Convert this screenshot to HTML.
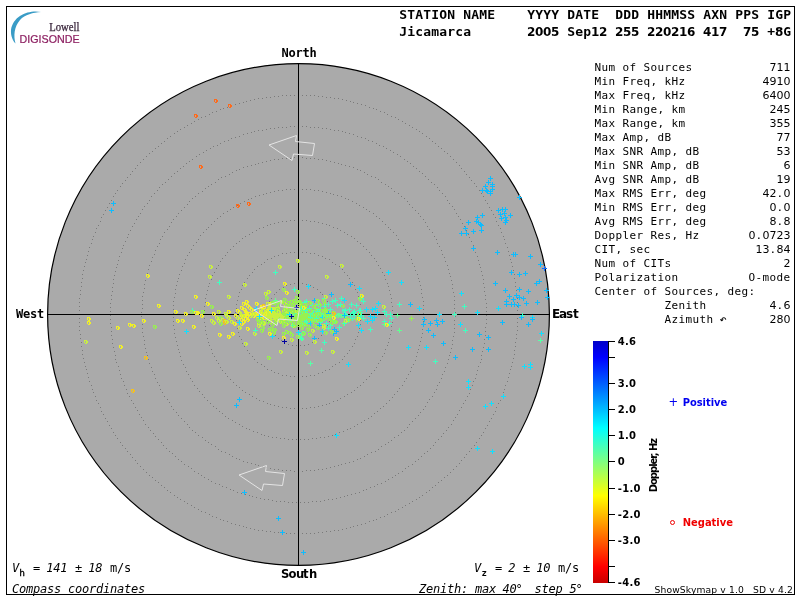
<!DOCTYPE html>
<html lang="en"><head><meta charset="utf-8"><title>Skymap - Jicamarca</title>
<style>html,body{margin:0;padding:0;background:#fff;overflow:hidden}svg{display:block}text{white-space:pre}</style>
</head><body>
<svg width="800" height="600" viewBox="0 0 800 600">
<rect x="0" y="0" width="800" height="600" fill="#fff"/>
<rect x="6.5" y="6.5" width="788" height="588" fill="none" stroke="#000" stroke-width="1"/>
<circle cx="298.5" cy="314.5" r="250.9" fill="#aaaaaa" stroke="#000" stroke-width="1.2"/>
<path d="M298 283.5h1M302 283.5h1M306 284.5h1M310 285.5h1M313 287.5h1M317 289.5h1M320 292.5h1M322 294.5h1M325 298.5h1M327 301.5h1M328 305.5h1M329 309.5h1M329 313.5h1M329 317.5h1M329 321.5h1M327 325.5h1M326 328.5h1M324 332.5h1M321 335.5h1M318 338.5h1M315 340.5h1M312 342.5h1M308 344.5h1M304 345.5h1M300 345.5h1M296 345.5h1M292 345.5h1M288 344.5h1M284 342.5h1M281 340.5h1M278 338.5h1M275 335.5h1M272 332.5h1M270 328.5h1M269 325.5h1M267 321.5h1M267 317.5h1M267 313.5h1M267 309.5h1M268 305.5h1M269 301.5h1M271 298.5h1M274 294.5h1M276 292.5h1M279 289.5h1M283 287.5h1M286 285.5h1M290 284.5h1M294 283.5h1M298 251.5h1M302 252.5h1M306 252.5h1M310 253.5h1M314 253.5h1M318 255.5h1M322 256.5h1M325 258.5h1M329 259.5h1M332 262.5h1M335 264.5h1M339 266.5h1M342 269.5h1M344 272.5h1M347 275.5h1M349 278.5h1M352 282.5h1M354 285.5h1M355 289.5h1M357 292.5h1M358 296.5h1M359 300.5h1M360 304.5h1M360 308.5h1M361 312.5h1M361 316.5h1M360 320.5h1M360 324.5h1M359 328.5h1M358 332.5h1M357 336.5h1M355 339.5h1M354 343.5h1M352 346.5h1M349 350.5h1M347 353.5h1M344 356.5h1M342 359.5h1M339 362.5h1M335 364.5h1M332 366.5h1M329 369.5h1M325 370.5h1M322 372.5h1M318 373.5h1M314 375.5h1M310 375.5h1M306 376.5h1M302 376.5h1M298 377.5h1M294 376.5h1M290 376.5h1M286 375.5h1M282 375.5h1M278 373.5h1M274 372.5h1M271 370.5h1M267 369.5h1M264 366.5h1M261 364.5h1M257 362.5h1M254 359.5h1M252 356.5h1M249 353.5h1M247 350.5h1M244 346.5h1M242 343.5h1M241 339.5h1M239 336.5h1M238 332.5h1M237 328.5h1M236 324.5h1M236 320.5h1M235 316.5h1M235 312.5h1M236 308.5h1M236 304.5h1M237 300.5h1M238 296.5h1M239 292.5h1M241 289.5h1M242 285.5h1M244 282.5h1M247 278.5h1M249 275.5h1M252 272.5h1M254 269.5h1M257 266.5h1M261 264.5h1M264 262.5h1M267 259.5h1M271 258.5h1M274 256.5h1M278 255.5h1M282 253.5h1M286 253.5h1M290 252.5h1M294 252.5h1M298 220.5h1M302 220.5h1M306 220.5h1M310 221.5h1M314 221.5h1M318 222.5h1M322 223.5h1M326 224.5h1M329 225.5h1M333 227.5h1M337 228.5h1M340 230.5h1M344 232.5h1M347 234.5h1M351 236.5h1M354 238.5h1M357 241.5h1M360 243.5h1M363 246.5h1M366 249.5h1M369 252.5h1M371 255.5h1M374 258.5h1M376 261.5h1M378 265.5h1M380 268.5h1M382 272.5h1M384 275.5h1M385 279.5h1M387 283.5h1M388 286.5h1M389 290.5h1M390 294.5h1M391 298.5h1M391 302.5h1M392 306.5h1M392 310.5h1M392 314.5h1M392 318.5h1M392 322.5h1M391 326.5h1M391 330.5h1M390 334.5h1M389 338.5h1M388 342.5h1M387 345.5h1M385 349.5h1M384 353.5h1M382 356.5h1M380 360.5h1M378 363.5h1M376 367.5h1M374 370.5h1M371 373.5h1M369 376.5h1M366 379.5h1M363 382.5h1M360 385.5h1M357 387.5h1M354 390.5h1M351 392.5h1M347 394.5h1M344 396.5h1M340 398.5h1M337 400.5h1M333 401.5h1M329 403.5h1M326 404.5h1M322 405.5h1M318 406.5h1M314 407.5h1M310 407.5h1M306 408.5h1M302 408.5h1M298 408.5h1M294 408.5h1M290 408.5h1M286 407.5h1M282 407.5h1M278 406.5h1M274 405.5h1M270 404.5h1M267 403.5h1M263 401.5h1M259 400.5h1M256 398.5h1M252 396.5h1M249 394.5h1M245 392.5h1M242 390.5h1M239 387.5h1M236 385.5h1M233 382.5h1M230 379.5h1M227 376.5h1M225 373.5h1M222 370.5h1M220 367.5h1M218 363.5h1M216 360.5h1M214 356.5h1M212 353.5h1M211 349.5h1M209 345.5h1M208 342.5h1M207 338.5h1M206 334.5h1M205 330.5h1M205 326.5h1M204 322.5h1M204 318.5h1M204 314.5h1M204 310.5h1M204 306.5h1M205 302.5h1M205 298.5h1M206 294.5h1M207 290.5h1M208 286.5h1M209 283.5h1M211 279.5h1M212 275.5h1M214 272.5h1M216 268.5h1M218 265.5h1M220 261.5h1M222 258.5h1M225 255.5h1M227 252.5h1M230 249.5h1M233 246.5h1M236 243.5h1M239 241.5h1M242 238.5h1M245 236.5h1M249 234.5h1M252 232.5h1M256 230.5h1M259 228.5h1M263 227.5h1M267 225.5h1M270 224.5h1M274 223.5h1M278 222.5h1M282 221.5h1M286 221.5h1M290 220.5h1M294 220.5h1M298 189.5h1M302 189.5h1M306 189.5h1M310 189.5h1M314 190.5h1M318 190.5h1M322 191.5h1M326 192.5h1M330 193.5h1M333 194.5h1M337 195.5h1M341 196.5h1M345 198.5h1M348 199.5h1M352 201.5h1M356 203.5h1M359 205.5h1M363 207.5h1M366 209.5h1M369 211.5h1M373 213.5h1M376 216.5h1M379 218.5h1M382 221.5h1M385 224.5h1M388 227.5h1M390 229.5h1M393 232.5h1M396 235.5h1M398 239.5h1M400 242.5h1M403 245.5h1M405 249.5h1M407 252.5h1M409 255.5h1M411 259.5h1M412 263.5h1M414 266.5h1M415 270.5h1M417 274.5h1M418 278.5h1M419 281.5h1M420 285.5h1M421 289.5h1M421 293.5h1M422 297.5h1M423 301.5h1M423 305.5h1M423 309.5h1M423 313.5h1M423 317.5h1M423 321.5h1M423 325.5h1M422 329.5h1M422 333.5h1M421 337.5h1M420 341.5h1M419 345.5h1M418 349.5h1M417 352.5h1M416 356.5h1M415 360.5h1M413 364.5h1M411 367.5h1M410 371.5h1M408 374.5h1M406 378.5h1M404 381.5h1M402 385.5h1M399 388.5h1M397 391.5h1M394 394.5h1M392 397.5h1M389 400.5h1M386 403.5h1M383 406.5h1M380 408.5h1M377 411.5h1M374 413.5h1M371 416.5h1M368 418.5h1M364 420.5h1M361 422.5h1M357 424.5h1M354 426.5h1M350 428.5h1M347 429.5h1M343 431.5h1M339 432.5h1M335 434.5h1M332 435.5h1M328 436.5h1M324 437.5h1M320 437.5h1M316 438.5h1M312 438.5h1M308 439.5h1M304 439.5h1M300 439.5h1M296 439.5h1M292 439.5h1M288 439.5h1M284 438.5h1M280 438.5h1M276 437.5h1M272 437.5h1M268 436.5h1M264 435.5h1M261 434.5h1M257 432.5h1M253 431.5h1M249 429.5h1M246 428.5h1M242 426.5h1M239 424.5h1M235 422.5h1M232 420.5h1M228 418.5h1M225 416.5h1M222 413.5h1M219 411.5h1M216 408.5h1M213 406.5h1M210 403.5h1M207 400.5h1M204 397.5h1M202 394.5h1M199 391.5h1M197 388.5h1M194 385.5h1M192 381.5h1M190 378.5h1M188 374.5h1M186 371.5h1M185 367.5h1M183 364.5h1M181 360.5h1M180 356.5h1M179 352.5h1M178 349.5h1M177 345.5h1M176 341.5h1M175 337.5h1M174 333.5h1M174 329.5h1M173 325.5h1M173 321.5h1M173 317.5h1M173 313.5h1M173 309.5h1M173 305.5h1M173 301.5h1M174 297.5h1M175 293.5h1M175 289.5h1M176 285.5h1M177 281.5h1M178 278.5h1M179 274.5h1M181 270.5h1M182 266.5h1M184 263.5h1M185 259.5h1M187 255.5h1M189 252.5h1M191 249.5h1M193 245.5h1M196 242.5h1M198 239.5h1M200 235.5h1M203 232.5h1M206 229.5h1M208 227.5h1M211 224.5h1M214 221.5h1M217 218.5h1M220 216.5h1M223 213.5h1M227 211.5h1M230 209.5h1M233 207.5h1M237 205.5h1M240 203.5h1M244 201.5h1M248 199.5h1M251 198.5h1M255 196.5h1M259 195.5h1M263 194.5h1M266 193.5h1M270 192.5h1M274 191.5h1M278 190.5h1M282 190.5h1M286 189.5h1M290 189.5h1M294 189.5h1M298 157.5h1M302 157.5h1M306 158.5h1M310 158.5h1M314 158.5h1M318 159.5h1M322 159.5h1M326 160.5h1M330 161.5h1M334 162.5h1M338 163.5h1M341 164.5h1M345 165.5h1M349 166.5h1M353 167.5h1M357 169.5h1M360 170.5h1M364 172.5h1M367 174.5h1M371 176.5h1M375 177.5h1M378 179.5h1M381 182.5h1M385 184.5h1M388 186.5h1M391 188.5h1M394 191.5h1M398 193.5h1M401 196.5h1M404 198.5h1M407 201.5h1M409 204.5h1M412 207.5h1M415 210.5h1M418 213.5h1M420 216.5h1M423 219.5h1M425 222.5h1M427 226.5h1M429 229.5h1M432 232.5h1M434 236.5h1M436 239.5h1M437 243.5h1M439 246.5h1M441 250.5h1M442 254.5h1M444 257.5h1M445 261.5h1M447 265.5h1M448 269.5h1M449 273.5h1M450 276.5h1M451 280.5h1M452 284.5h1M452 288.5h1M453 292.5h1M454 296.5h1M454 300.5h1M454 304.5h1M454 308.5h1M455 312.5h1M455 316.5h1M454 320.5h1M454 324.5h1M454 328.5h1M454 332.5h1M453 336.5h1M452 340.5h1M452 344.5h1M451 348.5h1M450 352.5h1M449 355.5h1M448 359.5h1M447 363.5h1M445 367.5h1M444 371.5h1M442 374.5h1M441 378.5h1M439 382.5h1M437 385.5h1M436 389.5h1M434 392.5h1M432 396.5h1M429 399.5h1M427 402.5h1M425 406.5h1M423 409.5h1M420 412.5h1M418 415.5h1M415 418.5h1M412 421.5h1M409 424.5h1M407 427.5h1M404 430.5h1M401 432.5h1M398 435.5h1M394 437.5h1M391 440.5h1M388 442.5h1M385 444.5h1M381 446.5h1M378 449.5h1M375 451.5h1M371 452.5h1M367 454.5h1M364 456.5h1M360 458.5h1M357 459.5h1M353 461.5h1M349 462.5h1M345 463.5h1M341 464.5h1M338 465.5h1M334 466.5h1M330 467.5h1M326 468.5h1M322 469.5h1M318 469.5h1M314 470.5h1M310 470.5h1M306 470.5h1M302 471.5h1M298 471.5h1M294 471.5h1M290 470.5h1M286 470.5h1M282 470.5h1M278 469.5h1M274 469.5h1M270 468.5h1M266 467.5h1M262 466.5h1M258 465.5h1M255 464.5h1M251 463.5h1M247 462.5h1M243 461.5h1M239 459.5h1M236 458.5h1M232 456.5h1M229 454.5h1M225 452.5h1M221 451.5h1M218 449.5h1M215 446.5h1M211 444.5h1M208 442.5h1M205 440.5h1M202 437.5h1M198 435.5h1M195 432.5h1M192 430.5h1M189 427.5h1M187 424.5h1M184 421.5h1M181 418.5h1M178 415.5h1M176 412.5h1M173 409.5h1M171 406.5h1M169 402.5h1M167 399.5h1M164 396.5h1M162 392.5h1M160 389.5h1M159 385.5h1M157 382.5h1M155 378.5h1M154 374.5h1M152 371.5h1M151 367.5h1M149 363.5h1M148 359.5h1M147 355.5h1M146 352.5h1M145 348.5h1M144 344.5h1M144 340.5h1M143 336.5h1M142 332.5h1M142 328.5h1M142 324.5h1M142 320.5h1M141 316.5h1M141 312.5h1M142 308.5h1M142 304.5h1M142 300.5h1M142 296.5h1M143 292.5h1M144 288.5h1M144 284.5h1M145 280.5h1M146 276.5h1M147 273.5h1M148 269.5h1M149 265.5h1M151 261.5h1M152 257.5h1M154 254.5h1M155 250.5h1M157 246.5h1M159 243.5h1M160 239.5h1M162 236.5h1M164 232.5h1M167 229.5h1M169 226.5h1M171 222.5h1M173 219.5h1M176 216.5h1M178 213.5h1M181 210.5h1M184 207.5h1M187 204.5h1M189 201.5h1M192 198.5h1M195 196.5h1M198 193.5h1M202 191.5h1M205 188.5h1M208 186.5h1M211 184.5h1M215 182.5h1M218 179.5h1M221 177.5h1M225 176.5h1M229 174.5h1M232 172.5h1M236 170.5h1M239 169.5h1M243 167.5h1M247 166.5h1M251 165.5h1M255 164.5h1M258 163.5h1M262 162.5h1M266 161.5h1M270 160.5h1M274 159.5h1M278 159.5h1M282 158.5h1M286 158.5h1M290 158.5h1M294 157.5h1M298 126.5h1M302 126.5h1M306 126.5h1M310 127.5h1M314 127.5h1M318 127.5h1M322 128.5h1M326 128.5h1M330 129.5h1M334 130.5h1M338 130.5h1M342 131.5h1M345 132.5h1M349 133.5h1M353 134.5h1M357 136.5h1M361 137.5h1M365 138.5h1M368 140.5h1M372 141.5h1M376 143.5h1M379 145.5h1M383 146.5h1M386 148.5h1M390 150.5h1M393 152.5h1M397 154.5h1M400 156.5h1M404 159.5h1M407 161.5h1M410 163.5h1M413 166.5h1M416 168.5h1M419 171.5h1M422 173.5h1M425 176.5h1M428 179.5h1M431 182.5h1M434 184.5h1M437 187.5h1M439 190.5h1M442 193.5h1M445 196.5h1M447 200.5h1M449 203.5h1M452 206.5h1M454 209.5h1M456 213.5h1M458 216.5h1M460 219.5h1M462 223.5h1M464 226.5h1M466 230.5h1M468 234.5h1M469 237.5h1M471 241.5h1M473 245.5h1M474 248.5h1M475 252.5h1M477 256.5h1M478 260.5h1M479 264.5h1M480 267.5h1M481 271.5h1M482 275.5h1M483 279.5h1M483 283.5h1M484 287.5h1M484 291.5h1M485 295.5h1M485 299.5h1M486 303.5h1M486 307.5h1M486 311.5h1M486 315.5h1M486 319.5h1M486 323.5h1M485 327.5h1M485 331.5h1M485 335.5h1M484 339.5h1M484 343.5h1M483 347.5h1M482 351.5h1M481 355.5h1M481 359.5h1M480 362.5h1M478 366.5h1M477 370.5h1M476 374.5h1M475 378.5h1M473 381.5h1M472 385.5h1M470 389.5h1M469 393.5h1M467 396.5h1M465 400.5h1M463 403.5h1M461 407.5h1M459 410.5h1M457 414.5h1M455 417.5h1M453 420.5h1M451 424.5h1M448 427.5h1M446 430.5h1M443 433.5h1M441 436.5h1M438 439.5h1M435 442.5h1M433 445.5h1M430 448.5h1M427 451.5h1M424 453.5h1M421 456.5h1M418 459.5h1M415 461.5h1M412 464.5h1M408 466.5h1M405 468.5h1M402 471.5h1M398 473.5h1M395 475.5h1M392 477.5h1M388 479.5h1M385 481.5h1M381 483.5h1M377 484.5h1M374 486.5h1M370 487.5h1M366 489.5h1M363 490.5h1M359 492.5h1M355 493.5h1M351 494.5h1M347 495.5h1M344 496.5h1M340 497.5h1M336 498.5h1M332 499.5h1M328 499.5h1M324 500.5h1M320 501.5h1M316 501.5h1M312 501.5h1M308 502.5h1M304 502.5h1M300 502.5h1M296 502.5h1M292 502.5h1M288 502.5h1M284 501.5h1M280 501.5h1M276 501.5h1M272 500.5h1M268 499.5h1M264 499.5h1M260 498.5h1M256 497.5h1M252 496.5h1M249 495.5h1M245 494.5h1M241 493.5h1M237 492.5h1M233 490.5h1M230 489.5h1M226 487.5h1M222 486.5h1M219 484.5h1M215 483.5h1M211 481.5h1M208 479.5h1M204 477.5h1M201 475.5h1M198 473.5h1M194 471.5h1M191 468.5h1M188 466.5h1M184 464.5h1M181 461.5h1M178 459.5h1M175 456.5h1M172 453.5h1M169 451.5h1M166 448.5h1M163 445.5h1M161 442.5h1M158 439.5h1M155 436.5h1M153 433.5h1M150 430.5h1M148 427.5h1M145 424.5h1M143 420.5h1M141 417.5h1M139 414.5h1M137 410.5h1M135 407.5h1M133 403.5h1M131 400.5h1M129 396.5h1M127 393.5h1M126 389.5h1M124 385.5h1M123 381.5h1M121 378.5h1M120 374.5h1M119 370.5h1M118 366.5h1M116 362.5h1M115 359.5h1M115 355.5h1M114 351.5h1M113 347.5h1M112 343.5h1M112 339.5h1M111 335.5h1M111 331.5h1M111 327.5h1M110 323.5h1M110 319.5h1M110 315.5h1M110 311.5h1M110 307.5h1M110 303.5h1M111 299.5h1M111 295.5h1M112 291.5h1M112 287.5h1M113 283.5h1M113 279.5h1M114 275.5h1M115 271.5h1M116 267.5h1M117 264.5h1M118 260.5h1M119 256.5h1M121 252.5h1M122 248.5h1M123 245.5h1M125 241.5h1M127 237.5h1M128 234.5h1M130 230.5h1M132 226.5h1M134 223.5h1M136 219.5h1M138 216.5h1M140 213.5h1M142 209.5h1M144 206.5h1M147 203.5h1M149 200.5h1M151 196.5h1M154 193.5h1M157 190.5h1M159 187.5h1M162 184.5h1M165 182.5h1M168 179.5h1M171 176.5h1M174 173.5h1M177 171.5h1M180 168.5h1M183 166.5h1M186 163.5h1M189 161.5h1M192 159.5h1M196 156.5h1M199 154.5h1M203 152.5h1M206 150.5h1M210 148.5h1M213 146.5h1M217 145.5h1M220 143.5h1M224 141.5h1M228 140.5h1M231 138.5h1M235 137.5h1M239 136.5h1M243 134.5h1M247 133.5h1M251 132.5h1M254 131.5h1M258 130.5h1M262 130.5h1M266 129.5h1M270 128.5h1M274 128.5h1M278 127.5h1M282 127.5h1M286 127.5h1M290 126.5h1M294 126.5h1M298 95.5h1M302 95.5h1M306 95.5h1M310 95.5h1M314 95.5h1M318 96.5h1M322 96.5h1M326 97.5h1M330 97.5h1M334 98.5h1M338 98.5h1M342 99.5h1M346 100.5h1M350 101.5h1M353 102.5h1M357 103.5h1M361 104.5h1M365 105.5h1M369 107.5h1M373 108.5h1M376 109.5h1M380 111.5h1M384 112.5h1M387 114.5h1M391 116.5h1M395 117.5h1M398 119.5h1M402 121.5h1M405 123.5h1M409 125.5h1M412 127.5h1M416 129.5h1M419 131.5h1M422 133.5h1M426 136.5h1M429 138.5h1M432 141.5h1M435 143.5h1M438 146.5h1M441 148.5h1M444 151.5h1M447 153.5h1M450 156.5h1M453 159.5h1M456 162.5h1M459 165.5h1M461 168.5h1M464 171.5h1M466 174.5h1M469 177.5h1M471 180.5h1M474 183.5h1M476 186.5h1M479 190.5h1M481 193.5h1M483 196.5h1M485 200.5h1M487 203.5h1M489 207.5h1M491 210.5h1M493 214.5h1M495 217.5h1M496 221.5h1M498 225.5h1M500 228.5h1M501 232.5h1M503 236.5h1M504 239.5h1M505 243.5h1M507 247.5h1M508 251.5h1M509 255.5h1M510 259.5h1M511 262.5h1M512 266.5h1M513 270.5h1M514 274.5h1M514 278.5h1M515 282.5h1M515 286.5h1M516 290.5h1M516 294.5h1M517 298.5h1M517 302.5h1M517 306.5h1M517 310.5h1M517 314.5h1M517 318.5h1M517 322.5h1M517 326.5h1M517 330.5h1M516 334.5h1M516 338.5h1M515 342.5h1M515 346.5h1M514 350.5h1M514 354.5h1M513 358.5h1M512 362.5h1M511 366.5h1M510 369.5h1M509 373.5h1M508 377.5h1M507 381.5h1M505 385.5h1M504 389.5h1M503 392.5h1M501 396.5h1M500 400.5h1M498 403.5h1M496 407.5h1M495 411.5h1M493 414.5h1M491 418.5h1M489 421.5h1M487 425.5h1M485 428.5h1M483 432.5h1M481 435.5h1M479 438.5h1M476 442.5h1M474 445.5h1M471 448.5h1M469 451.5h1M466 454.5h1M464 457.5h1M461 460.5h1M459 463.5h1M456 466.5h1M453 469.5h1M450 472.5h1M447 475.5h1M444 477.5h1M441 480.5h1M438 482.5h1M435 485.5h1M432 487.5h1M429 490.5h1M426 492.5h1M422 495.5h1M419 497.5h1M416 499.5h1M412 501.5h1M409 503.5h1M405 505.5h1M402 507.5h1M398 509.5h1M395 511.5h1M391 512.5h1M387 514.5h1M384 516.5h1M380 517.5h1M376 519.5h1M373 520.5h1M369 521.5h1M365 523.5h1M361 524.5h1M357 525.5h1M353 526.5h1M350 527.5h1M346 528.5h1M342 529.5h1M338 530.5h1M334 530.5h1M330 531.5h1M326 531.5h1M322 532.5h1M318 532.5h1M314 533.5h1M310 533.5h1M306 533.5h1M302 533.5h1M298 533.5h1M294 533.5h1M290 533.5h1M286 533.5h1M282 533.5h1M278 532.5h1M274 532.5h1M270 531.5h1M266 531.5h1M262 530.5h1M258 530.5h1M254 529.5h1M250 528.5h1M246 527.5h1M243 526.5h1M239 525.5h1M235 524.5h1M231 523.5h1M227 521.5h1M223 520.5h1M220 519.5h1M216 517.5h1M212 516.5h1M209 514.5h1M205 512.5h1M201 511.5h1M198 509.5h1M194 507.5h1M191 505.5h1M187 503.5h1M184 501.5h1M180 499.5h1M177 497.5h1M174 495.5h1M170 492.5h1M167 490.5h1M164 487.5h1M161 485.5h1M158 482.5h1M155 480.5h1M152 477.5h1M149 475.5h1M146 472.5h1M143 469.5h1M140 466.5h1M137 463.5h1M135 460.5h1M132 457.5h1M130 454.5h1M127 451.5h1M125 448.5h1M122 445.5h1M120 442.5h1M117 438.5h1M115 435.5h1M113 432.5h1M111 428.5h1M109 425.5h1M107 421.5h1M105 418.5h1M103 414.5h1M101 411.5h1M100 407.5h1M98 403.5h1M96 400.5h1M95 396.5h1M93 392.5h1M92 389.5h1M91 385.5h1M89 381.5h1M88 377.5h1M87 373.5h1M86 369.5h1M85 366.5h1M84 362.5h1M83 358.5h1M82 354.5h1M82 350.5h1M81 346.5h1M81 342.5h1M80 338.5h1M80 334.5h1M79 330.5h1M79 326.5h1M79 322.5h1M79 318.5h1M79 314.5h1M79 310.5h1M79 306.5h1M79 302.5h1M79 298.5h1M80 294.5h1M80 290.5h1M81 286.5h1M81 282.5h1M82 278.5h1M82 274.5h1M83 270.5h1M84 266.5h1M85 262.5h1M86 259.5h1M87 255.5h1M88 251.5h1M89 247.5h1M91 243.5h1M92 239.5h1M93 236.5h1M95 232.5h1M96 228.5h1M98 225.5h1M100 221.5h1M101 217.5h1M103 214.5h1M105 210.5h1M107 207.5h1M109 203.5h1M111 200.5h1M113 196.5h1M115 193.5h1M117 190.5h1M120 186.5h1M122 183.5h1M125 180.5h1M127 177.5h1M130 174.5h1M132 171.5h1M135 168.5h1M137 165.5h1M140 162.5h1M143 159.5h1M146 156.5h1M149 153.5h1M152 151.5h1M155 148.5h1M158 146.5h1M161 143.5h1M164 141.5h1M167 138.5h1M170 136.5h1M174 133.5h1M177 131.5h1M180 129.5h1M184 127.5h1M187 125.5h1M191 123.5h1M194 121.5h1M198 119.5h1M201 117.5h1M205 116.5h1M209 114.5h1M212 112.5h1M216 111.5h1M220 109.5h1M223 108.5h1M227 107.5h1M231 105.5h1M235 104.5h1M239 103.5h1M243 102.5h1M246 101.5h1M250 100.5h1M254 99.5h1M258 98.5h1M262 98.5h1M266 97.5h1M270 97.5h1M274 96.5h1M278 96.5h1M282 95.5h1M286 95.5h1M290 95.5h1M294 95.5h1" stroke="#7a7a7a" stroke-width="1" fill="none" shape-rendering="crispEdges"/>
<path d="M298.5 64V565M48 314.5H549" stroke="#000" stroke-width="1" fill="none" shape-rendering="crispEdges"/>
<style>.a{fill:#ff6a1a}.b{fill:#f0f028}.c{fill:#c8f040}.d{fill:#58ffa8}.e{fill:#40ffc0}.f{fill:#10e0ff}.g{fill:#0cbcff}.h{fill:#1070ff}.i{fill:#0000a0}.j{fill:#f4c020}.k{fill:#98f050}.l{fill:#60ff90}</style>
<g shape-rendering="crispEdges">
<path class="b" d="M240 314h3v1h-3zm0 1h1v2h-1zm2 0h2v2h-2zm-1 2h2v1h-2zM243 314h3v1h-3zm0 1h1v2h-1zm2 0h2v2h-2zm-1 2h2v1h-2zM246 314h3v1h-3zm0 1h1v2h-1zm2 0h2v2h-2zm-1 2h2v1h-2zM249 314h3v1h-3zm0 1h1v2h-1zm2 0h2v2h-2zm-1 2h2v1h-2zM252 314h3v1h-3zm0 1h1v2h-1zm2 0h2v2h-2zm-1 2h2v1h-2zM255 314h3v1h-3zm0 1h1v2h-1zm2 0h2v2h-2zm-1 2h2v1h-2zM258 314h3v1h-3zm0 1h1v2h-1zm2 0h2v2h-2zm-1 2h2v1h-2zM261 314h3v1h-3zm0 1h1v2h-1zm2 0h2v2h-2zm-1 2h2v1h-2z"/>
<path class="c" d="M264 314h3v1h-3zm0 1h1v2h-1zm2 0h2v2h-2zm-1 2h2v1h-2zM267 314h3v1h-3zm0 1h1v2h-1zm2 0h2v2h-2zm-1 2h2v1h-2zM270 314h3v1h-3zm0 1h1v2h-1zm2 0h2v2h-2zm-1 2h2v1h-2zM273 314h3v1h-3zm0 1h1v2h-1zm2 0h2v2h-2zm-1 2h2v1h-2zM276 314h3v1h-3zm0 1h1v2h-1zm2 0h2v2h-2zm-1 2h2v1h-2zM279 314h3v1h-3zm0 1h1v2h-1zm2 0h2v2h-2zm-1 2h2v1h-2zM282 314h3v1h-3zm0 1h1v2h-1zm2 0h2v2h-2zm-1 2h2v1h-2z"/>
<path class="k" d="M285 314h3v1h-3zm0 1h1v2h-1zm2 0h2v2h-2zm-1 2h2v1h-2zM288 314h3v1h-3zm0 1h1v2h-1zm2 0h2v2h-2zm-1 2h2v1h-2zM291 314h3v1h-3zm0 1h1v2h-1zm2 0h2v2h-2zm-1 2h2v1h-2zM294 314h3v1h-3zm0 1h1v2h-1zm2 0h2v2h-2zm-1 2h2v1h-2zM297 314h3v1h-3zm0 1h1v2h-1zm2 0h2v2h-2zm-1 2h2v1h-2zM300 314h3v1h-3zm0 1h1v2h-1zm2 0h2v2h-2zm-1 2h2v1h-2zM303 314h3v1h-3zm0 1h1v2h-1zm2 0h2v2h-2zm-1 2h2v1h-2zM306 314h3v1h-3zm0 1h1v2h-1zm2 0h2v2h-2zm-1 2h2v1h-2zM309 314h3v1h-3zm0 1h1v2h-1zm2 0h2v2h-2zm-1 2h2v1h-2z"/>
<path class="l" d="M312 314h3v1h-3zm0 1h1v2h-1zm2 0h2v2h-2zm-1 2h2v1h-2zM315 314h3v1h-3zm0 1h1v2h-1zm2 0h2v2h-2zm-1 2h2v1h-2zM318 314h3v1h-3zm0 1h1v2h-1zm2 0h2v2h-2zm-1 2h2v1h-2zM321 314h3v1h-3zm0 1h1v2h-1zm2 0h2v2h-2zm-1 2h2v1h-2zM324 314h3v1h-3zm0 1h1v2h-1zm2 0h2v2h-2zm-1 2h2v1h-2zM327 314h3v1h-3zm0 1h1v2h-1zm2 0h2v2h-2zm-1 2h2v1h-2zM330 314h3v1h-3zm0 1h1v2h-1zm2 0h2v2h-2zm-1 2h2v1h-2zM333 314h3v1h-3zm0 1h1v2h-1zm2 0h2v2h-2zm-1 2h2v1h-2zM336 314h3v1h-3zm0 1h1v2h-1zm2 0h2v2h-2zm-1 2h2v1h-2zM339 314h3v1h-3zm0 1h1v2h-1zm2 0h2v2h-2zm-1 2h2v1h-2zM342 314h3v1h-3zm0 1h1v2h-1zm2 0h2v2h-2zm-1 2h2v1h-2z"/>
<path class="c" d="M279 318h3v1h-3zm0 1h1v2h-1zm2 0h2v2h-2zm-1 2h2v1h-2z"/>
<path class="k" d="M297 320h3v1h-3zm0 1h1v2h-1zm2 0h2v2h-2zm-1 2h2v1h-2z"/>
<path class="b" d="M259 310h3v1h-3zm0 1h1v2h-1zm2 0h2v2h-2zm-1 2h2v1h-2z"/>
<path class="k" d="M295 313h3v1h-3zm0 1h1v2h-1zm2 0h2v2h-2zm-1 2h2v1h-2zM272 301h3v1h-3zm0 1h1v2h-1zm2 0h2v2h-2zm-1 2h2v1h-2zM297 301h3v1h-3zm0 1h1v2h-1zm2 0h2v2h-2zm-1 2h2v1h-2z"/>
<path class="c" d="M266 316h3v1h-3zm0 1h1v2h-1zm2 0h2v2h-2zm-1 2h2v1h-2zM263 316h3v1h-3zm0 1h1v2h-1zm2 0h2v2h-2zm-1 2h2v1h-2zM282 310h3v1h-3zm0 1h1v2h-1zm2 0h2v2h-2zm-1 2h2v1h-2z"/>
<path class="l" d="M299 311h3v1h-3zm0 1h1v2h-1zm2 0h2v2h-2zm-1 2h2v1h-2z"/>
<path class="c" d="M286 309h3v1h-3zm0 1h1v2h-1zm2 0h2v2h-2zm-1 2h2v1h-2zM281 320h3v1h-3zm0 1h1v2h-1zm2 0h2v2h-2zm-1 2h2v1h-2z"/>
<path class="l" d="M311 314h5v1h-5zm2-2h1v5h-1z"/>
<path class="c" d="M280 320h3v1h-3zm0 1h1v2h-1zm2 0h2v2h-2zm-1 2h2v1h-2zM276 315h3v1h-3zm0 1h1v2h-1zm2 0h2v2h-2zm-1 2h2v1h-2zM268 312h3v1h-3zm0 1h1v2h-1zm2 0h2v2h-2zm-1 2h2v1h-2z"/>
<path class="b" d="M267 310h3v1h-3zm0 1h1v2h-1zm2 0h2v2h-2zm-1 2h2v1h-2z"/>
<path class="l" d="M310 312h3v1h-3zm0 1h1v2h-1zm2 0h2v2h-2zm-1 2h2v1h-2z"/>
<path class="c" d="M280 300h3v1h-3zm0 1h1v2h-1zm2 0h2v2h-2zm-1 2h2v1h-2z"/>
<path class="l" d="M315 312h3v1h-3zm0 1h1v2h-1zm2 0h2v2h-2zm-1 2h2v1h-2z"/>
<path class="c" d="M260 311h3v1h-3zm0 1h1v2h-1zm2 0h2v2h-2zm-1 2h2v1h-2zM276 306h3v1h-3zm0 1h1v2h-1zm2 0h2v2h-2zm-1 2h2v1h-2zM298 309h5v1h-5zm2-2h1v5h-1zM273 312h3v1h-3zm0 1h1v2h-1zm2 0h2v2h-2zm-1 2h2v1h-2zM268 308h3v1h-3zm0 1h1v2h-1zm2 0h2v2h-2zm-1 2h2v1h-2z"/>
<path class="l" d="M313 314h3v1h-3zm0 1h1v2h-1zm2 0h2v2h-2zm-1 2h2v1h-2zM325 311h5v1h-5zm2-2h1v5h-1z"/>
<path class="c" d="M272 315h3v1h-3zm0 1h1v2h-1zm2 0h2v2h-2zm-1 2h2v1h-2z"/>
<path class="k" d="M276 317h3v1h-3zm0 1h1v2h-1zm2 0h2v2h-2zm-1 2h2v1h-2zM296 318h3v1h-3zm0 1h1v2h-1zm2 0h2v2h-2zm-1 2h2v1h-2z"/>
<path class="l" d="M304 303h3v1h-3zm0 1h1v2h-1zm2 0h2v2h-2zm-1 2h2v1h-2zM288 311h3v1h-3zm0 1h1v2h-1zm2 0h2v2h-2zm-1 2h2v1h-2z"/>
<path class="c" d="M284 306h3v1h-3zm0 1h1v2h-1zm2 0h2v2h-2zm-1 2h2v1h-2z"/>
<path class="b" d="M260 317h3v1h-3zm0 1h1v2h-1zm2 0h2v2h-2zm-1 2h2v1h-2z"/>
<path class="c" d="M264 310h3v1h-3zm0 1h1v2h-1zm2 0h2v2h-2zm-1 2h2v1h-2zM294 310h3v1h-3zm0 1h1v2h-1zm2 0h2v2h-2zm-1 2h2v1h-2z"/>
<path class="l" d="M299 318h5v1h-5zm2-2h1v5h-1z"/>
<path class="c" d="M274 314h3v1h-3zm0 1h1v2h-1zm2 0h2v2h-2zm-1 2h2v1h-2z"/>
<path class="l" d="M298 309h3v1h-3zm0 1h1v2h-1zm2 0h2v2h-2zm-1 2h2v1h-2zM289 312h3v1h-3zm0 1h1v2h-1zm2 0h2v2h-2zm-1 2h2v1h-2z"/>
<path class="k" d="M278 319h3v1h-3zm0 1h1v2h-1zm2 0h2v2h-2zm-1 2h2v1h-2zM274 320h3v1h-3zm0 1h1v2h-1zm2 0h2v2h-2zm-1 2h2v1h-2zM293 314h3v1h-3zm0 1h1v2h-1zm2 0h2v2h-2zm-1 2h2v1h-2z"/>
<path class="l" d="M304 321h3v1h-3zm0 1h1v2h-1zm2 0h2v2h-2zm-1 2h2v1h-2zM316 308h3v1h-3zm0 1h1v2h-1zm2 0h2v2h-2zm-1 2h2v1h-2z"/>
<path class="k" d="M281 313h3v1h-3zm0 1h1v2h-1zm2 0h2v2h-2zm-1 2h2v1h-2z"/>
<path class="c" d="M279 320h3v1h-3zm0 1h1v2h-1zm2 0h2v2h-2zm-1 2h2v1h-2z"/>
<path class="k" d="M299 315h3v1h-3zm0 1h1v2h-1zm2 0h2v2h-2zm-1 2h2v1h-2zM313 305h5v1h-5zm2-2h1v5h-1z"/>
<path class="c" d="M290 310h3v1h-3zm0 1h1v2h-1zm2 0h2v2h-2zm-1 2h2v1h-2zM270 307h3v1h-3zm0 1h1v2h-1zm2 0h2v2h-2zm-1 2h2v1h-2zM271 308h3v1h-3zm0 1h1v2h-1zm2 0h2v2h-2zm-1 2h2v1h-2z"/>
<path class="k" d="M289 308h3v1h-3zm0 1h1v2h-1zm2 0h2v2h-2zm-1 2h2v1h-2z"/>
<path class="c" d="M290 318h3v1h-3zm0 1h1v2h-1zm2 0h2v2h-2zm-1 2h2v1h-2z"/>
<path class="k" d="M302 323h5v1h-5zm2-2h1v5h-1z"/>
<path class="c" d="M268 306h3v1h-3zm0 1h1v2h-1zm2 0h2v2h-2zm-1 2h2v1h-2zM262 322h3v1h-3zm0 1h1v2h-1zm2 0h2v2h-2zm-1 2h2v1h-2zM284 308h3v1h-3zm0 1h1v2h-1zm2 0h2v2h-2zm-1 2h2v1h-2z"/>
<path class="k" d="M307 314h3v1h-3zm0 1h1v2h-1zm2 0h2v2h-2zm-1 2h2v1h-2zM289 315h3v1h-3zm0 1h1v2h-1zm2 0h2v2h-2zm-1 2h2v1h-2z"/>
<path class="c" d="M298 307h5v1h-5zm2-2h1v5h-1z"/>
<path class="k" d="M294 308h3v1h-3zm0 1h1v2h-1zm2 0h2v2h-2zm-1 2h2v1h-2z"/>
<path class="c" d="M257 321h3v1h-3zm0 1h1v2h-1zm2 0h2v2h-2zm-1 2h2v1h-2z"/>
<path class="k" d="M286 310h3v1h-3zm0 1h1v2h-1zm2 0h2v2h-2zm-1 2h2v1h-2zM274 311h3v1h-3zm0 1h1v2h-1zm2 0h2v2h-2zm-1 2h2v1h-2zM279 317h3v1h-3zm0 1h1v2h-1zm2 0h2v2h-2zm-1 2h2v1h-2z"/>
<path class="c" d="M285 322h3v1h-3zm0 1h1v2h-1zm2 0h2v2h-2zm-1 2h2v1h-2z"/>
<path class="e" d="M318 322h5v1h-5zm2-2h1v5h-1z"/>
<path class="k" d="M291 304h3v1h-3zm0 1h1v2h-1zm2 0h2v2h-2zm-1 2h2v1h-2z"/>
<path class="l" d="M317 312h5v1h-5zm2-2h1v5h-1z"/>
<path class="b" d="M268 302h3v1h-3zm0 1h1v2h-1zm2 0h2v2h-2zm-1 2h2v1h-2z"/>
<path class="k" d="M279 314h3v1h-3zm0 1h1v2h-1zm2 0h2v2h-2zm-1 2h2v1h-2zM293 301h3v1h-3zm0 1h1v2h-1zm2 0h2v2h-2zm-1 2h2v1h-2z"/>
<path class="c" d="M273 313h3v1h-3zm0 1h1v2h-1zm2 0h2v2h-2zm-1 2h2v1h-2z"/>
<path class="b" d="M259 318h3v1h-3zm0 1h1v2h-1zm2 0h2v2h-2zm-1 2h2v1h-2z"/>
<path class="k" d="M309 317h5v1h-5zm2-2h1v5h-1z"/>
<path class="c" d="M298 306h5v1h-5zm2-2h1v5h-1z"/>
<path class="l" d="M293 312h3v1h-3zm0 1h1v2h-1zm2 0h2v2h-2zm-1 2h2v1h-2z"/>
<path class="c" d="M292 312h3v1h-3zm0 1h1v2h-1zm2 0h2v2h-2zm-1 2h2v1h-2z"/>
<path class="l" d="M320 320h5v1h-5zm2-2h1v5h-1z"/>
<path class="c" d="M264 310h3v1h-3zm0 1h1v2h-1zm2 0h2v2h-2zm-1 2h2v1h-2zM286 313h3v1h-3zm0 1h1v2h-1zm2 0h2v2h-2zm-1 2h2v1h-2z"/>
<path class="k" d="M303 315h3v1h-3zm0 1h1v2h-1zm2 0h2v2h-2zm-1 2h2v1h-2z"/>
<path class="c" d="M282 312h3v1h-3zm0 1h1v2h-1zm2 0h2v2h-2zm-1 2h2v1h-2zM271 316h3v1h-3zm0 1h1v2h-1zm2 0h2v2h-2zm-1 2h2v1h-2z"/>
<path class="l" d="M286 314h3v1h-3zm0 1h1v2h-1zm2 0h2v2h-2zm-1 2h2v1h-2z"/>
<path class="k" d="M280 314h3v1h-3zm0 1h1v2h-1zm2 0h2v2h-2zm-1 2h2v1h-2z"/>
<path class="c" d="M282 317h3v1h-3zm0 1h1v2h-1zm2 0h2v2h-2zm-1 2h2v1h-2zM295 311h3v1h-3zm0 1h1v2h-1zm2 0h2v2h-2zm-1 2h2v1h-2zM292 312h3v1h-3zm0 1h1v2h-1zm2 0h2v2h-2zm-1 2h2v1h-2z"/>
<path class="k" d="M311 319h5v1h-5zm2-2h1v5h-1z"/>
<path class="c" d="M275 315h3v1h-3zm0 1h1v2h-1zm2 0h2v2h-2zm-1 2h2v1h-2z"/>
<path class="l" d="M313 310h3v1h-3zm0 1h1v2h-1zm2 0h2v2h-2zm-1 2h2v1h-2z"/>
<path class="k" d="M274 321h3v1h-3zm0 1h1v2h-1zm2 0h2v2h-2zm-1 2h2v1h-2z"/>
<path class="c" d="M291 324h3v1h-3zm0 1h1v2h-1zm2 0h2v2h-2zm-1 2h2v1h-2zM262 321h3v1h-3zm0 1h1v2h-1zm2 0h2v2h-2zm-1 2h2v1h-2z"/>
<path class="b" d="M257 316h3v1h-3zm0 1h1v2h-1zm2 0h2v2h-2zm-1 2h2v1h-2z"/>
<path class="c" d="M275 307h3v1h-3zm0 1h1v2h-1zm2 0h2v2h-2zm-1 2h2v1h-2zM259 308h3v1h-3zm0 1h1v2h-1zm2 0h2v2h-2zm-1 2h2v1h-2zM269 320h3v1h-3zm0 1h1v2h-1zm2 0h2v2h-2zm-1 2h2v1h-2z"/>
<path class="k" d="M276 308h3v1h-3zm0 1h1v2h-1zm2 0h2v2h-2zm-1 2h2v1h-2z"/>
<path class="l" d="M303 312h5v1h-5zm2-2h1v5h-1z"/>
<path class="c" d="M257 324h3v1h-3zm0 1h1v2h-1zm2 0h2v2h-2zm-1 2h2v1h-2z"/>
<path class="l" d="M292 312h3v1h-3zm0 1h1v2h-1zm2 0h2v2h-2zm-1 2h2v1h-2zM302 319h3v1h-3zm0 1h1v2h-1zm2 0h2v2h-2zm-1 2h2v1h-2z"/>
<path class="c" d="M278 313h3v1h-3zm0 1h1v2h-1zm2 0h2v2h-2zm-1 2h2v1h-2z"/>
<path class="l" d="M314 317h5v1h-5zm2-2h1v5h-1z"/>
<path class="e" d="M325 314h5v1h-5zm2-2h1v5h-1z"/>
<path class="b" d="M267 311h3v1h-3zm0 1h1v2h-1zm2 0h2v2h-2zm-1 2h2v1h-2z"/>
<path class="c" d="M303 306h3v1h-3zm0 1h1v2h-1zm2 0h2v2h-2zm-1 2h2v1h-2z"/>
<path class="k" d="M304 319h5v1h-5zm2-2h1v5h-1z"/>
<path class="c" d="M267 307h3v1h-3zm0 1h1v2h-1zm2 0h2v2h-2zm-1 2h2v1h-2z"/>
<path class="l" d="M324 315h5v1h-5zm2-2h1v5h-1z"/>
<path class="c" d="M271 314h3v1h-3zm0 1h1v2h-1zm2 0h2v2h-2zm-1 2h2v1h-2z"/>
<path class="k" d="M289 317h3v1h-3zm0 1h1v2h-1zm2 0h2v2h-2zm-1 2h2v1h-2z"/>
<path class="c" d="M273 312h3v1h-3zm0 1h1v2h-1zm2 0h2v2h-2zm-1 2h2v1h-2z"/>
<path class="b" d="M266 309h3v1h-3zm0 1h1v2h-1zm2 0h2v2h-2zm-1 2h2v1h-2z"/>
<path class="c" d="M284 309h3v1h-3zm0 1h1v2h-1zm2 0h2v2h-2zm-1 2h2v1h-2z"/>
<path class="k" d="M297 321h3v1h-3zm0 1h1v2h-1zm2 0h2v2h-2zm-1 2h2v1h-2z"/>
<path class="l" d="M302 309h3v1h-3zm0 1h1v2h-1zm2 0h2v2h-2zm-1 2h2v1h-2z"/>
<path class="k" d="M291 310h3v1h-3zm0 1h1v2h-1zm2 0h2v2h-2zm-1 2h2v1h-2z"/>
<path class="c" d="M259 321h3v1h-3zm0 1h1v2h-1zm2 0h2v2h-2zm-1 2h2v1h-2z"/>
<path class="l" d="M307 313h3v1h-3zm0 1h1v2h-1zm2 0h2v2h-2zm-1 2h2v1h-2z"/>
<path class="k" d="M296 309h3v1h-3zm0 1h1v2h-1zm2 0h2v2h-2zm-1 2h2v1h-2z"/>
<path class="l" d="M314 318h3v1h-3zm0 1h1v2h-1zm2 0h2v2h-2zm-1 2h2v1h-2z"/>
<path class="b" d="M262 306h3v1h-3zm0 1h1v2h-1zm2 0h2v2h-2zm-1 2h2v1h-2z"/>
<path class="c" d="M265 310h3v1h-3zm0 1h1v2h-1zm2 0h2v2h-2zm-1 2h2v1h-2z"/>
<path class="k" d="M295 314h3v1h-3zm0 1h1v2h-1zm2 0h2v2h-2zm-1 2h2v1h-2zM299 310h5v1h-5zm2-2h1v5h-1z"/>
<path class="b" d="M261 305h3v1h-3zm0 1h1v2h-1zm2 0h2v2h-2zm-1 2h2v1h-2z"/>
<path class="c" d="M302 322h3v1h-3zm0 1h1v2h-1zm2 0h2v2h-2zm-1 2h2v1h-2z"/>
<path class="k" d="M309 315h3v1h-3zm0 1h1v2h-1zm2 0h2v2h-2zm-1 2h2v1h-2z"/>
<path class="c" d="M283 302h3v1h-3zm0 1h1v2h-1zm2 0h2v2h-2zm-1 2h2v1h-2z"/>
<path class="k" d="M299 315h5v1h-5zm2-2h1v5h-1z"/>
<path class="c" d="M266 312h3v1h-3zm0 1h1v2h-1zm2 0h2v2h-2zm-1 2h2v1h-2z"/>
<path class="k" d="M299 324h5v1h-5zm2-2h1v5h-1z"/>
<path class="c" d="M260 311h3v1h-3zm0 1h1v2h-1zm2 0h2v2h-2zm-1 2h2v1h-2z"/>
<path class="l" d="M303 322h3v1h-3zm0 1h1v2h-1zm2 0h2v2h-2zm-1 2h2v1h-2z"/>
<path class="k" d="M276 301h3v1h-3zm0 1h1v2h-1zm2 0h2v2h-2zm-1 2h2v1h-2z"/>
<path class="b" d="M270 314h3v1h-3zm0 1h1v2h-1zm2 0h2v2h-2zm-1 2h2v1h-2z"/>
<path class="l" d="M288 319h3v1h-3zm0 1h1v2h-1zm2 0h2v2h-2zm-1 2h2v1h-2z"/>
<path class="b" d="M260 305h3v1h-3zm0 1h1v2h-1zm2 0h2v2h-2zm-1 2h2v1h-2z"/>
<path class="c" d="M241 314h3v1h-3zm0 1h1v2h-1zm2 0h2v2h-2zm-1 2h2v1h-2zM238 311h3v1h-3zm0 1h1v2h-1zm2 0h2v2h-2zm-1 2h2v1h-2zM249 314h3v1h-3zm0 1h1v2h-1zm2 0h2v2h-2zm-1 2h2v1h-2z"/>
<path class="b" d="M248 312h3v1h-3zm0 1h1v2h-1zm2 0h2v2h-2zm-1 2h2v1h-2zM253 313h3v1h-3zm0 1h1v2h-1zm2 0h2v2h-2zm-1 2h2v1h-2zM246 318h3v1h-3zm0 1h1v2h-1zm2 0h2v2h-2zm-1 2h2v1h-2zM236 309h3v1h-3zm0 1h1v2h-1zm2 0h2v2h-2zm-1 2h2v1h-2zM254 312h3v1h-3zm0 1h1v2h-1zm2 0h2v2h-2zm-1 2h2v1h-2zM244 310h3v1h-3zm0 1h1v2h-1zm2 0h2v2h-2zm-1 2h2v1h-2zM244 317h3v1h-3zm0 1h1v2h-1zm2 0h2v2h-2zm-1 2h2v1h-2z"/>
<path class="c" d="M256 317h3v1h-3zm0 1h1v2h-1zm2 0h2v2h-2zm-1 2h2v1h-2z"/>
<path class="k" d="M298 321h5v1h-5zm2-2h1v5h-1zM313 318h5v1h-5zm2-2h1v5h-1zM320 314h3v1h-3zm0 1h1v2h-1zm2 0h2v2h-2zm-1 2h2v1h-2z"/>
<path class="e" d="M351 313h5v1h-5zm2-2h1v5h-1z"/>
<path class="l" d="M337 313h3v1h-3zm0 1h1v2h-1zm2 0h2v2h-2zm-1 2h2v1h-2z"/>
<path class="e" d="M358 310h5v1h-5zm2-2h1v5h-1zM352 315h5v1h-5zm2-2h1v5h-1z"/>
<path class="k" d="M354 319h5v1h-5zm2-2h1v5h-1zM301 311h5v1h-5zm2-2h1v5h-1zM326 312h3v1h-3zm0 1h1v2h-1zm2 0h2v2h-2zm-1 2h2v1h-2zM301 307h5v1h-5zm2-2h1v5h-1z"/>
<path class="l" d="M309 309h3v1h-3zm0 1h1v2h-1zm2 0h2v2h-2zm-1 2h2v1h-2z"/>
<path class="e" d="M343 315h5v1h-5zm2-2h1v5h-1z"/>
<path class="k" d="M323 314h5v1h-5zm2-2h1v5h-1zM305 319h5v1h-5zm2-2h1v5h-1zM302 305h5v1h-5zm2-2h1v5h-1zM326 312h3v1h-3zm0 1h1v2h-1zm2 0h2v2h-2zm-1 2h2v1h-2zM324 309h3v1h-3zm0 1h1v2h-1zm2 0h2v2h-2zm-1 2h2v1h-2zM332 311h3v1h-3zm0 1h1v2h-1zm2 0h2v2h-2zm-1 2h2v1h-2z"/>
<path class="l" d="M321 313h3v1h-3zm0 1h1v2h-1zm2 0h2v2h-2zm-1 2h2v1h-2z"/>
<path class="e" d="M352 311h5v1h-5zm2-2h1v5h-1zM344 313h3v1h-3zm0 1h1v2h-1zm2 0h2v2h-2zm-1 2h2v1h-2z"/>
<path class="k" d="M315 316h3v1h-3zm0 1h1v2h-1zm2 0h2v2h-2zm-1 2h2v1h-2zM341 304h3v1h-3zm0 1h1v2h-1zm2 0h2v2h-2zm-1 2h2v1h-2zM315 310h3v1h-3zm0 1h1v2h-1zm2 0h2v2h-2zm-1 2h2v1h-2zM323 302h3v1h-3zm0 1h1v2h-1zm2 0h2v2h-2zm-1 2h2v1h-2zM300 317h5v1h-5zm2-2h1v5h-1z"/>
<path class="e" d="M358 312h5v1h-5zm2-2h1v5h-1z"/>
<path class="k" d="M358 312h3v1h-3zm0 1h1v2h-1zm2 0h2v2h-2zm-1 2h2v1h-2z"/>
<path class="l" d="M312 319h3v1h-3zm0 1h1v2h-1zm2 0h2v2h-2zm-1 2h2v1h-2z"/>
<path class="k" d="M341 323h5v1h-5zm2-2h1v5h-1z"/>
<path class="l" d="M332 320h3v1h-3zm0 1h1v2h-1zm2 0h2v2h-2zm-1 2h2v1h-2z"/>
<path class="e" d="M355 315h5v1h-5zm2-2h1v5h-1z"/>
<path class="k" d="M357 310h5v1h-5zm2-2h1v5h-1z"/>
<path class="l" d="M304 308h3v1h-3zm0 1h1v2h-1zm2 0h2v2h-2zm-1 2h2v1h-2z"/>
<path class="k" d="M356 315h5v1h-5zm2-2h1v5h-1zM299 315h3v1h-3zm0 1h1v2h-1zm2 0h2v2h-2zm-1 2h2v1h-2zM315 308h3v1h-3zm0 1h1v2h-1zm2 0h2v2h-2zm-1 2h2v1h-2zM330 321h5v1h-5zm2-2h1v5h-1zM300 306h3v1h-3zm0 1h1v2h-1zm2 0h2v2h-2zm-1 2h2v1h-2z"/>
<path class="l" d="M310 317h5v1h-5zm2-2h1v5h-1z"/>
<path class="k" d="M324 312h3v1h-3zm0 1h1v2h-1zm2 0h2v2h-2zm-1 2h2v1h-2zM328 320h5v1h-5zm2-2h1v5h-1z"/>
<path class="e" d="M342 309h3v1h-3zm0 1h1v2h-1zm2 0h2v2h-2zm-1 2h2v1h-2z"/>
<path class="k" d="M343 317h5v1h-5zm2-2h1v5h-1zM311 316h3v1h-3zm0 1h1v2h-1zm2 0h2v2h-2zm-1 2h2v1h-2zM327 311h3v1h-3zm0 1h1v2h-1zm2 0h2v2h-2zm-1 2h2v1h-2zM305 308h3v1h-3zm0 1h1v2h-1zm2 0h2v2h-2zm-1 2h2v1h-2zM323 309h5v1h-5zm2-2h1v5h-1zM357 315h3v1h-3zm0 1h1v2h-1zm2 0h2v2h-2zm-1 2h2v1h-2z"/>
<path class="e" d="M358 316h3v1h-3zm0 1h1v2h-1zm2 0h2v2h-2zm-1 2h2v1h-2z"/>
<path class="k" d="M301 318h5v1h-5zm2-2h1v5h-1z"/>
<path class="l" d="M343 314h3v1h-3zm0 1h1v2h-1zm2 0h2v2h-2zm-1 2h2v1h-2z"/>
<path class="k" d="M318 318h5v1h-5zm2-2h1v5h-1z"/>
<path class="l" d="M300 323h5v1h-5zm2-2h1v5h-1z"/>
<path class="a" d="M194 114h3v1h-3zm0 1h1v2h-1zm2 0h2v2h-2zm-1 2h2v1h-2zM214 99h3v1h-3zm0 1h1v2h-1zm2 0h2v2h-2zm-1 2h2v1h-2zM228 104h3v1h-3zm0 1h1v2h-1zm2 0h2v2h-2zm-1 2h2v1h-2z"/>
<path class="g" d="M111 203h5v1h-5zm2-2h1v5h-1zM109 210h5v1h-5zm2-2h1v5h-1z"/>
<path class="a" d="M199 165h3v1h-3zm0 1h1v2h-1zm2 0h2v2h-2zm-1 2h2v1h-2zM236 204h3v1h-3zm0 1h1v2h-1zm2 0h2v2h-2zm-1 2h2v1h-2z"/>
<path class="c" d="M209 265h3v1h-3zm0 1h1v2h-1zm2 0h2v2h-2zm-1 2h2v1h-2z"/>
<path class="b" d="M146 274h3v1h-3zm0 1h1v2h-1zm2 0h2v2h-2zm-1 2h2v1h-2z"/>
<path class="c" d="M208 275h3v1h-3zm0 1h1v2h-1zm2 0h2v2h-2zm-1 2h2v1h-2z"/>
<path class="e" d="M217 282h5v1h-5zm2-2h1v5h-1z"/>
<path class="b" d="M194 295h3v1h-3zm0 1h1v2h-1zm2 0h2v2h-2zm-1 2h2v1h-2z"/>
<path class="c" d="M227 295h3v1h-3zm0 1h1v2h-1zm2 0h2v2h-2zm-1 2h2v1h-2z"/>
<path class="a" d="M247 202h3v1h-3zm0 1h1v2h-1zm2 0h2v2h-2zm-1 2h2v1h-2z"/>
<path class="c" d="M296 259h3v1h-3zm0 1h1v2h-1zm2 0h2v2h-2zm-1 2h2v1h-2zM278 265h3v1h-3zm0 1h1v2h-1zm2 0h2v2h-2zm-1 2h2v1h-2zM340 264h3v1h-3zm0 1h1v2h-1zm2 0h2v2h-2zm-1 2h2v1h-2z"/>
<path class="e" d="M273 272h5v1h-5zm2-2h1v5h-1z"/>
<path class="f" d="M386 272h5v1h-5zm2-2h1v5h-1z"/>
<path class="c" d="M325 275h3v1h-3zm0 1h1v2h-1zm2 0h2v2h-2zm-1 2h2v1h-2z"/>
<path class="f" d="M399 282h5v1h-5zm2-2h1v5h-1z"/>
<path class="c" d="M243 283h3v1h-3zm0 1h1v2h-1zm2 0h2v2h-2zm-1 2h2v1h-2z"/>
<path class="b" d="M283 282h3v1h-3zm0 1h1v2h-1zm2 0h2v2h-2zm-1 2h2v1h-2z"/>
<path class="g" d="M348 284h5v1h-5zm2-2h1v5h-1z"/>
<path class="f" d="M306 286h5v1h-5zm2-2h1v5h-1zM357 288h5v1h-5zm2-2h1v5h-1z"/>
<path class="e" d="M292 289h5v1h-5zm2-2h1v5h-1z"/>
<path class="g" d="M488 178h5v1h-5zm2-2h1v5h-1zM486 182h5v1h-5zm2-2h1v5h-1zM490 184h5v1h-5zm2-2h1v5h-1zM483 186h5v1h-5zm2-2h1v5h-1zM490 189h5v1h-5zm2-2h1v5h-1zM480 190h5v1h-5zm2-2h1v5h-1zM484 190h5v1h-5zm2-2h1v5h-1zM485 191h5v1h-5zm2-2h1v5h-1zM488 191h5v1h-5zm2-2h1v5h-1zM488 193h5v1h-5zm2-2h1v5h-1zM490 186h5v1h-5zm2-2h1v5h-1zM496 210h5v1h-5zm2-2h1v5h-1zM500 209h5v1h-5zm2-2h1v5h-1zM503 209h5v1h-5zm2-2h1v5h-1zM498 214h5v1h-5zm2-2h1v5h-1zM502 213h5v1h-5zm2-2h1v5h-1zM508 215h5v1h-5zm2-2h1v5h-1zM499 218h5v1h-5zm2-2h1v5h-1zM503 217h5v1h-5zm2-2h1v5h-1zM504 220h5v1h-5zm2-2h1v5h-1zM503 222h5v1h-5zm2-2h1v5h-1zM480 215h5v1h-5zm2-2h1v5h-1zM475 217h5v1h-5zm2-2h1v5h-1zM466 222h5v1h-5zm2-2h1v5h-1zM474 221h5v1h-5zm2-2h1v5h-1zM476 222h5v1h-5zm2-2h1v5h-1zM478 224h5v1h-5zm2-2h1v5h-1zM517 197h5v1h-5zm2-2h1v5h-1zM479 225h5v1h-5zm2-2h1v5h-1zM463 228h5v1h-5zm2-2h1v5h-1zM479 230h5v1h-5zm2-2h1v5h-1zM471 231h5v1h-5zm2-2h1v5h-1zM459 233h5v1h-5zm2-2h1v5h-1zM464 233h5v1h-5zm2-2h1v5h-1zM471 248h5v1h-5zm2-2h1v5h-1zM495 252h5v1h-5zm2-2h1v5h-1zM511 254h5v1h-5zm2-2h1v5h-1zM513 254h5v1h-5zm2-2h1v5h-1zM528 256h5v1h-5zm2-2h1v5h-1zM538 264h5v1h-5zm2-2h1v5h-1z"/>
<path class="h" d="M542 268h5v1h-5zm2-2h1v5h-1z"/>
<path class="g" d="M509 272h5v1h-5zm2-2h1v5h-1zM517 274h5v1h-5zm2-2h1v5h-1zM523 273h5v1h-5zm2-2h1v5h-1zM493 283h5v1h-5zm2-2h1v5h-1zM534 283h5v1h-5zm2-2h1v5h-1zM537 281h5v1h-5zm2-2h1v5h-1zM517 289h5v1h-5zm2-2h1v5h-1zM503 290h5v1h-5zm2-2h1v5h-1zM526 291h5v1h-5zm2-2h1v5h-1zM544 290h5v1h-5zm2-2h1v5h-1z"/>
<path class="f" d="M459 293h5v1h-5zm2-2h1v5h-1z"/>
<path class="g" d="M507 296h5v1h-5zm2-2h1v5h-1zM514 295h5v1h-5zm2-2h1v5h-1zM517 297h5v1h-5zm2-2h1v5h-1zM511 299h5v1h-5zm2-2h1v5h-1zM521 298h5v1h-5zm2-2h1v5h-1zM545 297h5v1h-5zm2-2h1v5h-1zM504 301h5v1h-5zm2-2h1v5h-1zM524 303h5v1h-5zm2-2h1v5h-1zM535 302h5v1h-5zm2-2h1v5h-1zM504 304h5v1h-5zm2-2h1v5h-1zM509 304h5v1h-5zm2-2h1v5h-1zM512 304h5v1h-5zm2-2h1v5h-1zM516 305h5v1h-5zm2-2h1v5h-1z"/>
<path class="e" d="M462 306h5v1h-5zm2-2h1v5h-1z"/>
<path class="f" d="M496 308h5v1h-5zm2-2h1v5h-1zM475 312h5v1h-5zm2-2h1v5h-1z"/>
<path class="e" d="M452 314h5v1h-5zm2-2h1v5h-1zM520 315h5v1h-5zm2-2h1v5h-1z"/>
<path class="g" d="M519 317h5v1h-5zm2-2h1v5h-1z"/>
<path class="f" d="M530 317h5v1h-5zm2-2h1v5h-1z"/>
<path class="g" d="M530 319h5v1h-5zm2-2h1v5h-1zM500 322h5v1h-5zm2-2h1v5h-1z"/>
<path class="f" d="M458 324h5v1h-5zm2-2h1v5h-1z"/>
<path class="g" d="M526 324h5v1h-5zm2-2h1v5h-1z"/>
<path class="e" d="M463 330h5v1h-5zm2-2h1v5h-1z"/>
<path class="f" d="M539 333h5v1h-5zm2-2h1v5h-1z"/>
<path class="g" d="M477 334h5v1h-5zm2-2h1v5h-1zM486 337h5v1h-5zm2-2h1v5h-1z"/>
<path class="d" d="M538 340h5v1h-5zm2-2h1v5h-1z"/>
<path class="g" d="M470 349h5v1h-5zm2-2h1v5h-1zM486 349h5v1h-5zm2-2h1v5h-1zM453 357h5v1h-5zm2-2h1v5h-1z"/>
<path class="f" d="M522 366h5v1h-5zm2-2h1v5h-1zM528 364h5v1h-5zm2-2h1v5h-1zM528 367h5v1h-5zm2-2h1v5h-1zM466 381h5v1h-5zm2-2h1v5h-1zM466 387h5v1h-5zm2-2h1v5h-1zM501 396h5v1h-5zm2-2h1v5h-1zM489 403h5v1h-5zm2-2h1v5h-1zM483 406h5v1h-5zm2-2h1v5h-1zM475 448h5v1h-5zm2-2h1v5h-1zM490 451h5v1h-5zm2-2h1v5h-1z"/>
<path class="c" d="M305 351h3v1h-3zm0 1h1v2h-1zm2 0h2v2h-2zm-1 2h2v1h-2z"/>
<path class="d" d="M319 350h5v1h-5zm2-2h1v5h-1z"/>
<path class="c" d="M331 350h3v1h-3zm0 1h1v2h-1zm2 0h2v2h-2zm-1 2h2v1h-2z"/>
<path class="d" d="M308 363h5v1h-5zm2-2h1v5h-1z"/>
<path class="f" d="M346 364h5v1h-5zm2-2h1v5h-1zM406 347h5v1h-5zm2-2h1v5h-1zM424 347h5v1h-5zm2-2h1v5h-1z"/>
<path class="e" d="M433 361h5v1h-5zm2-2h1v5h-1z"/>
<path class="f" d="M334 435h5v1h-5zm2-2h1v5h-1z"/>
<path class="g" d="M242 492h5v1h-5zm2-2h1v5h-1zM276 518h5v1h-5zm2-2h1v5h-1zM280 532h5v1h-5zm2-2h1v5h-1zM301 552h5v1h-5zm2-2h1v5h-1z"/>
<path class="c" d="M84 340h3v1h-3zm0 1h1v2h-1zm2 0h2v2h-2zm-1 2h2v1h-2z"/>
<path class="b" d="M119 345h3v1h-3zm0 1h1v2h-1zm2 0h2v2h-2zm-1 2h2v1h-2z"/>
<path class="j" d="M144 356h3v1h-3zm0 1h1v2h-1zm2 0h2v2h-2zm-1 2h2v1h-2zM131 389h3v1h-3zm0 1h1v2h-1zm2 0h2v2h-2zm-1 2h2v1h-2z"/>
<path class="g" d="M237 399h5v1h-5zm2-2h1v5h-1zM234 405h5v1h-5zm2-2h1v5h-1z"/>
<path class="b" d="M157 304h3v1h-3zm0 1h1v2h-1zm2 0h2v2h-2zm-1 2h2v1h-2zM87 317h3v1h-3zm0 1h1v2h-1zm2 0h2v2h-2zm-1 2h2v1h-2zM87 321h3v1h-3zm0 1h1v2h-1zm2 0h2v2h-2zm-1 2h2v1h-2zM142 319h3v1h-3zm0 1h1v2h-1zm2 0h2v2h-2zm-1 2h2v1h-2zM128 323h3v1h-3zm0 1h1v2h-1zm2 0h2v2h-2zm-1 2h2v1h-2zM132 324h3v1h-3zm0 1h1v2h-1zm2 0h2v2h-2zm-1 2h2v1h-2zM116 326h3v1h-3zm0 1h1v2h-1zm2 0h2v2h-2zm-1 2h2v1h-2z"/>
<path class="k" d="M153 325h3v1h-3zm0 1h1v2h-1zm2 0h2v2h-2zm-1 2h2v1h-2z"/>
<path class="b" d="M206 302h3v1h-3zm0 1h1v2h-1zm2 0h2v2h-2zm-1 2h2v1h-2z"/>
<path class="k" d="M210 305h3v1h-3zm0 1h1v2h-1zm2 0h2v2h-2zm-1 2h2v1h-2z"/>
<path class="b" d="M174 310h3v1h-3zm0 1h1v2h-1zm2 0h2v2h-2zm-1 2h2v1h-2z"/>
<path class="e" d="M190 310h5v1h-5zm2-2h1v5h-1z"/>
<path class="k" d="M190 310h3v1h-3zm0 1h1v2h-1zm2 0h2v2h-2zm-1 2h2v1h-2z"/>
<path class="b" d="M184 312h3v1h-3zm0 1h1v2h-1zm2 0h2v2h-2zm-1 2h2v1h-2zM194 311h3v1h-3zm0 1h1v2h-1zm2 0h2v2h-2zm-1 2h2v1h-2zM196 311h3v1h-3zm0 1h1v2h-1zm2 0h2v2h-2zm-1 2h2v1h-2z"/>
<path class="k" d="M201 310h3v1h-3zm0 1h1v2h-1zm2 0h2v2h-2zm-1 2h2v1h-2z"/>
<path class="b" d="M200 314h3v1h-3zm0 1h1v2h-1zm2 0h2v2h-2zm-1 2h2v1h-2zM212 312h3v1h-3zm0 1h1v2h-1zm2 0h2v2h-2zm-1 2h2v1h-2z"/>
<path class="c" d="M217 310h3v1h-3zm0 1h1v2h-1zm2 0h2v2h-2zm-1 2h2v1h-2zM224 312h3v1h-3zm0 1h1v2h-1zm2 0h2v2h-2zm-1 2h2v1h-2z"/>
<path class="b" d="M227 310h3v1h-3zm0 1h1v2h-1zm2 0h2v2h-2zm-1 2h2v1h-2z"/>
<path class="c" d="M225 314h3v1h-3zm0 1h1v2h-1zm2 0h2v2h-2zm-1 2h2v1h-2z"/>
<path class="b" d="M176 319h3v1h-3zm0 1h1v2h-1zm2 0h2v2h-2zm-1 2h2v1h-2zM181 319h3v1h-3zm0 1h1v2h-1zm2 0h2v2h-2zm-1 2h2v1h-2zM192 325h3v1h-3zm0 1h1v2h-1zm2 0h2v2h-2zm-1 2h2v1h-2z"/>
<path class="f" d="M184 331h5v1h-5zm2-2h1v5h-1z"/>
<path class="c" d="M210 319h3v1h-3zm0 1h1v2h-1zm2 0h2v2h-2zm-1 2h2v1h-2zM212 321h3v1h-3zm0 1h1v2h-1zm2 0h2v2h-2zm-1 2h2v1h-2zM215 316h3v1h-3zm0 1h1v2h-1zm2 0h2v2h-2zm-1 2h2v1h-2zM217 319h3v1h-3zm0 1h1v2h-1zm2 0h2v2h-2zm-1 2h2v1h-2z"/>
<path class="k" d="M219 316h3v1h-3zm0 1h1v2h-1zm2 0h2v2h-2zm-1 2h2v1h-2z"/>
<path class="c" d="M221 318h3v1h-3zm0 1h1v2h-1zm2 0h2v2h-2zm-1 2h2v1h-2z"/>
<path class="k" d="M219 322h3v1h-3zm0 1h1v2h-1zm2 0h2v2h-2zm-1 2h2v1h-2z"/>
<path class="j" d="M223 319h3v1h-3zm0 1h1v2h-1zm2 0h2v2h-2zm-1 2h2v1h-2zM223 321h3v1h-3zm0 1h1v2h-1zm2 0h2v2h-2zm-1 2h2v1h-2z"/>
<path class="c" d="M225 320h3v1h-3zm0 1h1v2h-1zm2 0h2v2h-2zm-1 2h2v1h-2zM227 316h3v1h-3zm0 1h1v2h-1zm2 0h2v2h-2zm-1 2h2v1h-2z"/>
<path class="b" d="M218 333h3v1h-3zm0 1h1v2h-1zm2 0h2v2h-2zm-1 2h2v1h-2zM227 335h3v1h-3zm0 1h1v2h-1zm2 0h2v2h-2zm-1 2h2v1h-2z"/>
<path class="c" d="M264 292h3v1h-3zm0 1h1v2h-1zm2 0h2v2h-2zm-1 2h2v1h-2zM267 290h3v1h-3zm0 1h1v2h-1zm2 0h2v2h-2zm-1 2h2v1h-2z"/>
<path class="k" d="M265 296h3v1h-3zm0 1h1v2h-1zm2 0h2v2h-2zm-1 2h2v1h-2zM282 288h3v1h-3zm0 1h1v2h-1zm2 0h2v2h-2zm-1 2h2v1h-2z"/>
<path class="b" d="M285 291h3v1h-3zm0 1h1v2h-1zm2 0h2v2h-2zm-1 2h2v1h-2z"/>
<path class="k" d="M296 290h3v1h-3zm0 1h1v2h-1zm2 0h2v2h-2zm-1 2h2v1h-2z"/>
<path class="b" d="M242 302h3v1h-3zm0 1h1v2h-1zm2 0h2v2h-2zm-1 2h2v1h-2zM245 300h3v1h-3zm0 1h1v2h-1zm2 0h2v2h-2zm-1 2h2v1h-2zM246 304h3v1h-3zm0 1h1v2h-1zm2 0h2v2h-2zm-1 2h2v1h-2zM240 306h3v1h-3zm0 1h1v2h-1zm2 0h2v2h-2zm-1 2h2v1h-2zM243 308h3v1h-3zm0 1h1v2h-1zm2 0h2v2h-2zm-1 2h2v1h-2zM248 306h3v1h-3zm0 1h1v2h-1zm2 0h2v2h-2zm-1 2h2v1h-2zM250 308h3v1h-3zm0 1h1v2h-1zm2 0h2v2h-2zm-1 2h2v1h-2zM245 312h3v1h-3zm0 1h1v2h-1zm2 0h2v2h-2zm-1 2h2v1h-2zM248 312h3v1h-3zm0 1h1v2h-1zm2 0h2v2h-2zm-1 2h2v1h-2z"/>
<path class="c" d="M252 312h3v1h-3zm0 1h1v2h-1zm2 0h2v2h-2zm-1 2h2v1h-2z"/>
<path class="b" d="M255 302h3v1h-3zm0 1h1v2h-1zm2 0h2v2h-2zm-1 2h2v1h-2z"/>
<path class="j" d="M262 304h3v1h-3zm0 1h1v2h-1zm2 0h2v2h-2zm-1 2h2v1h-2z"/>
<path class="c" d="M266 302h3v1h-3zm0 1h1v2h-1zm2 0h2v2h-2zm-1 2h2v1h-2z"/>
<path class="b" d="M234 314h3v1h-3zm0 1h1v2h-1zm2 0h2v2h-2zm-1 2h2v1h-2z"/>
<path class="c" d="M236 316h3v1h-3zm0 1h1v2h-1zm2 0h2v2h-2zm-1 2h2v1h-2zM230 320h3v1h-3zm0 1h1v2h-1zm2 0h2v2h-2zm-1 2h2v1h-2z"/>
<path class="b" d="M233 322h3v1h-3zm0 1h1v2h-1zm2 0h2v2h-2zm-1 2h2v1h-2zM240 318h3v1h-3zm0 1h1v2h-1zm2 0h2v2h-2zm-1 2h2v1h-2zM242 320h3v1h-3zm0 1h1v2h-1zm2 0h2v2h-2zm-1 2h2v1h-2zM240 322h3v1h-3zm0 1h1v2h-1zm2 0h2v2h-2zm-1 2h2v1h-2z"/>
<path class="c" d="M238 326h3v1h-3zm0 1h1v2h-1zm2 0h2v2h-2zm-1 2h2v1h-2z"/>
<path class="b" d="M246 327h3v1h-3zm0 1h1v2h-1zm2 0h2v2h-2zm-1 2h2v1h-2zM231 332h3v1h-3zm0 1h1v2h-1zm2 0h2v2h-2zm-1 2h2v1h-2z"/>
<path class="c" d="M244 342h3v1h-3zm0 1h1v2h-1zm2 0h2v2h-2zm-1 2h2v1h-2z"/>
<path class="k" d="M256 318h3v1h-3zm0 1h1v2h-1zm2 0h2v2h-2zm-1 2h2v1h-2zM259 318h3v1h-3zm0 1h1v2h-1zm2 0h2v2h-2zm-1 2h2v1h-2zM257 320h3v1h-3zm0 1h1v2h-1zm2 0h2v2h-2zm-1 2h2v1h-2zM260 321h3v1h-3zm0 1h1v2h-1zm2 0h2v2h-2zm-1 2h2v1h-2zM261 326h3v1h-3zm0 1h1v2h-1zm2 0h2v2h-2zm-1 2h2v1h-2zM260 329h3v1h-3zm0 1h1v2h-1zm2 0h2v2h-2zm-1 2h2v1h-2z"/>
<path class="c" d="M253 332h3v1h-3zm0 1h1v2h-1zm2 0h2v2h-2zm-1 2h2v1h-2z"/>
<path class="b" d="M264 312h3v1h-3zm0 1h1v2h-1zm2 0h2v2h-2zm-1 2h2v1h-2z"/>
<path class="c" d="M262 309h3v1h-3zm0 1h1v2h-1zm2 0h2v2h-2zm-1 2h2v1h-2zM267 313h3v1h-3zm0 1h1v2h-1zm2 0h2v2h-2zm-1 2h2v1h-2zM265 316h3v1h-3zm0 1h1v2h-1zm2 0h2v2h-2zm-1 2h2v1h-2zM268 317h3v1h-3zm0 1h1v2h-1zm2 0h2v2h-2zm-1 2h2v1h-2zM270 314h3v1h-3zm0 1h1v2h-1zm2 0h2v2h-2zm-1 2h2v1h-2zM272 311h3v1h-3zm0 1h1v2h-1zm2 0h2v2h-2zm-1 2h2v1h-2zM273 316h3v1h-3zm0 1h1v2h-1zm2 0h2v2h-2zm-1 2h2v1h-2z"/>
<path class="k" d="M266 320h3v1h-3zm0 1h1v2h-1zm2 0h2v2h-2zm-1 2h2v1h-2zM271 323h3v1h-3zm0 1h1v2h-1zm2 0h2v2h-2zm-1 2h2v1h-2z"/>
<path class="c" d="M275 313h3v1h-3zm0 1h1v2h-1zm2 0h2v2h-2zm-1 2h2v1h-2zM277 310h3v1h-3zm0 1h1v2h-1zm2 0h2v2h-2zm-1 2h2v1h-2zM279 314h3v1h-3zm0 1h1v2h-1zm2 0h2v2h-2zm-1 2h2v1h-2zM275 318h3v1h-3zm0 1h1v2h-1zm2 0h2v2h-2zm-1 2h2v1h-2zM272 307h3v1h-3zm0 1h1v2h-1zm2 0h2v2h-2zm-1 2h2v1h-2zM268 306h3v1h-3zm0 1h1v2h-1zm2 0h2v2h-2zm-1 2h2v1h-2z"/>
<path class="k" d="M275 303h3v1h-3zm0 1h1v2h-1zm2 0h2v2h-2zm-1 2h2v1h-2zM271 301h3v1h-3zm0 1h1v2h-1zm2 0h2v2h-2zm-1 2h2v1h-2zM281 300h3v1h-3zm0 1h1v2h-1zm2 0h2v2h-2zm-1 2h2v1h-2zM283 298h3v1h-3zm0 1h1v2h-1zm2 0h2v2h-2zm-1 2h2v1h-2zM287 301h3v1h-3zm0 1h1v2h-1zm2 0h2v2h-2zm-1 2h2v1h-2zM290 300h3v1h-3zm0 1h1v2h-1zm2 0h2v2h-2zm-1 2h2v1h-2zM293 299h3v1h-3zm0 1h1v2h-1zm2 0h2v2h-2zm-1 2h2v1h-2zM295 296h3v1h-3zm0 1h1v2h-1zm2 0h2v2h-2zm-1 2h2v1h-2zM298 300h3v1h-3zm0 1h1v2h-1zm2 0h2v2h-2zm-1 2h2v1h-2zM299 302h3v1h-3zm0 1h1v2h-1zm2 0h2v2h-2zm-1 2h2v1h-2zM285 304h3v1h-3zm0 1h1v2h-1zm2 0h2v2h-2zm-1 2h2v1h-2zM289 305h3v1h-3zm0 1h1v2h-1zm2 0h2v2h-2zm-1 2h2v1h-2zM283 308h3v1h-3zm0 1h1v2h-1zm2 0h2v2h-2zm-1 2h2v1h-2zM287 309h3v1h-3zm0 1h1v2h-1zm2 0h2v2h-2zm-1 2h2v1h-2zM282 312h3v1h-3zm0 1h1v2h-1zm2 0h2v2h-2zm-1 2h2v1h-2zM285 313h3v1h-3zm0 1h1v2h-1zm2 0h2v2h-2zm-1 2h2v1h-2z"/>
<path class="c" d="M281 316h3v1h-3zm0 1h1v2h-1zm2 0h2v2h-2zm-1 2h2v1h-2z"/>
<path class="k" d="M284 317h3v1h-3zm0 1h1v2h-1zm2 0h2v2h-2zm-1 2h2v1h-2zM288 316h3v1h-3zm0 1h1v2h-1zm2 0h2v2h-2zm-1 2h2v1h-2zM292 317h3v1h-3zm0 1h1v2h-1zm2 0h2v2h-2zm-1 2h2v1h-2zM280 320h3v1h-3zm0 1h1v2h-1zm2 0h2v2h-2zm-1 2h2v1h-2zM283 321h3v1h-3zm0 1h1v2h-1zm2 0h2v2h-2zm-1 2h2v1h-2zM287 320h3v1h-3zm0 1h1v2h-1zm2 0h2v2h-2zm-1 2h2v1h-2zM291 321h3v1h-3zm0 1h1v2h-1zm2 0h2v2h-2zm-1 2h2v1h-2zM295 320h3v1h-3zm0 1h1v2h-1zm2 0h2v2h-2zm-1 2h2v1h-2zM299 318h3v1h-3zm0 1h1v2h-1zm2 0h2v2h-2zm-1 2h2v1h-2zM302 316h3v1h-3zm0 1h1v2h-1zm2 0h2v2h-2zm-1 2h2v1h-2zM282 324h3v1h-3zm0 1h1v2h-1zm2 0h2v2h-2zm-1 2h2v1h-2zM293 324h3v1h-3zm0 1h1v2h-1zm2 0h2v2h-2zm-1 2h2v1h-2zM297 323h3v1h-3zm0 1h1v2h-1zm2 0h2v2h-2zm-1 2h2v1h-2zM301 322h3v1h-3zm0 1h1v2h-1zm2 0h2v2h-2zm-1 2h2v1h-2zM268 328h3v1h-3zm0 1h1v2h-1zm2 0h2v2h-2zm-1 2h2v1h-2zM270 327h3v1h-3zm0 1h1v2h-1zm2 0h2v2h-2zm-1 2h2v1h-2zM273 328h3v1h-3zm0 1h1v2h-1zm2 0h2v2h-2zm-1 2h2v1h-2z"/>
<path class="b" d="M268 332h3v1h-3zm0 1h1v2h-1zm2 0h2v2h-2zm-1 2h2v1h-2z"/>
<path class="k" d="M272 331h3v1h-3zm0 1h1v2h-1zm2 0h2v2h-2zm-1 2h2v1h-2zM282 332h3v1h-3zm0 1h1v2h-1zm2 0h2v2h-2zm-1 2h2v1h-2zM285 330h3v1h-3zm0 1h1v2h-1zm2 0h2v2h-2zm-1 2h2v1h-2zM288 331h3v1h-3zm0 1h1v2h-1zm2 0h2v2h-2zm-1 2h2v1h-2zM290 333h3v1h-3zm0 1h1v2h-1zm2 0h2v2h-2zm-1 2h2v1h-2z"/>
<path class="b" d="M282 336h3v1h-3zm0 1h1v2h-1zm2 0h2v2h-2zm-1 2h2v1h-2z"/>
<path class="c" d="M290 338h3v1h-3zm0 1h1v2h-1zm2 0h2v2h-2zm-1 2h2v1h-2z"/>
<path class="k" d="M296 335h3v1h-3zm0 1h1v2h-1zm2 0h2v2h-2zm-1 2h2v1h-2z"/>
<path class="l" d="M299 333h3v1h-3zm0 1h1v2h-1zm2 0h2v2h-2zm-1 2h2v1h-2zM302 331h3v1h-3zm0 1h1v2h-1zm2 0h2v2h-2zm-1 2h2v1h-2zM300 337h3v1h-3zm0 1h1v2h-1zm2 0h2v2h-2zm-1 2h2v1h-2zM273 300h5v1h-5zm2-2h1v5h-1z"/>
<path class="f" d="M254 308h5v1h-5zm2-2h1v5h-1zM269 310h5v1h-5zm2-2h1v5h-1zM257 316h5v1h-5zm2-2h1v5h-1zM237 322h5v1h-5zm2-2h1v5h-1z"/>
<path class="e" d="M253 330h5v1h-5zm2-2h1v5h-1z"/>
<path class="f" d="M270 336h5v1h-5zm2-2h1v5h-1z"/>
<path class="i" d="M294 307h5v1h-5zm2-2h1v5h-1z"/>
<path class="f" d="M287 314h5v1h-5zm2-2h1v5h-1z"/>
<path class="i" d="M289 316h5v1h-5zm2-2h1v5h-1zM282 341h5v1h-5zm2-2h1v5h-1z"/>
<path class="f" d="M296 332h5v1h-5zm2-2h1v5h-1z"/>
<path class="l" d="M290 325h5v1h-5zm2-2h1v5h-1z"/>
<path class="e" d="M299 308h5v1h-5zm2-2h1v5h-1zM302 302h5v1h-5zm2-2h1v5h-1zM299 338h5v1h-5zm2-2h1v5h-1z"/>
<path class="g" d="M329 294h5v1h-5zm2-2h1v5h-1zM312 300h5v1h-5zm2-2h1v5h-1z"/>
<path class="f" d="M342 300h5v1h-5zm2-2h1v5h-1z"/>
<path class="e" d="M339 298h5v1h-5zm2-2h1v5h-1zM333 300h5v1h-5zm2-2h1v5h-1zM330 301h5v1h-5zm2-2h1v5h-1zM322 298h5v1h-5zm2-2h1v5h-1zM338 304h5v1h-5zm2-2h1v5h-1zM335 305h5v1h-5zm2-2h1v5h-1zM349 304h5v1h-5zm2-2h1v5h-1zM354 305h5v1h-5zm2-2h1v5h-1zM361 301h5v1h-5zm2-2h1v5h-1zM359 298h5v1h-5zm2-2h1v5h-1z"/>
<path class="f" d="M376 303h5v1h-5zm2-2h1v5h-1zM364 309h5v1h-5zm2-2h1v5h-1zM370 309h5v1h-5zm2-2h1v5h-1zM373 308h5v1h-5zm2-2h1v5h-1zM375 312h5v1h-5zm2-2h1v5h-1z"/>
<path class="e" d="M343 310h5v1h-5zm2-2h1v5h-1zM347 309h5v1h-5zm2-2h1v5h-1zM351 312h5v1h-5zm2-2h1v5h-1zM357 310h5v1h-5zm2-2h1v5h-1z"/>
<path class="g" d="M326 313h5v1h-5zm2-2h1v5h-1z"/>
<path class="f" d="M320 317h5v1h-5zm2-2h1v5h-1z"/>
<path class="g" d="M342 315h5v1h-5zm2-2h1v5h-1z"/>
<path class="e" d="M348 315h5v1h-5zm2-2h1v5h-1zM350 318h5v1h-5zm2-2h1v5h-1zM346 320h5v1h-5zm2-2h1v5h-1zM342 323h5v1h-5zm2-2h1v5h-1zM337 327h5v1h-5zm2-2h1v5h-1zM361 318h5v1h-5zm2-2h1v5h-1zM359 315h5v1h-5zm2-2h1v5h-1z"/>
<path class="f" d="M368 316h5v1h-5zm2-2h1v5h-1zM372 317h5v1h-5zm2-2h1v5h-1zM370 320h5v1h-5zm2-2h1v5h-1zM365 321h5v1h-5zm2-2h1v5h-1zM356 325h5v1h-5zm2-2h1v5h-1zM359 330h5v1h-5zm2-2h1v5h-1z"/>
<path class="e" d="M368 329h5v1h-5zm2-2h1v5h-1z"/>
<path class="g" d="M317 325h5v1h-5zm2-2h1v5h-1z"/>
<path class="f" d="M308 323h5v1h-5zm2-2h1v5h-1zM320 331h5v1h-5zm2-2h1v5h-1z"/>
<path class="e" d="M326 328h5v1h-5zm2-2h1v5h-1z"/>
<path class="g" d="M332 329h5v1h-5zm2-2h1v5h-1zM334 331h5v1h-5zm2-2h1v5h-1zM331 333h5v1h-5zm2-2h1v5h-1zM312 338h5v1h-5zm2-2h1v5h-1z"/>
<path class="e" d="M322 342h5v1h-5zm2-2h1v5h-1zM304 301h5v1h-5zm2-2h1v5h-1zM303 310h5v1h-5zm2-2h1v5h-1zM307 308h5v1h-5zm2-2h1v5h-1zM311 313h5v1h-5zm2-2h1v5h-1zM315 311h5v1h-5zm2-2h1v5h-1zM318 309h5v1h-5zm2-2h1v5h-1zM322 306h5v1h-5zm2-2h1v5h-1zM326 304h5v1h-5zm2-2h1v5h-1zM328 309h5v1h-5zm2-2h1v5h-1zM308 317h5v1h-5zm2-2h1v5h-1zM314 318h5v1h-5zm2-2h1v5h-1zM304 321h5v1h-5zm2-2h1v5h-1zM324 323h5v1h-5zm2-2h1v5h-1zM328 325h5v1h-5zm2-2h1v5h-1zM310 305h5v1h-5zm2-2h1v5h-1zM316 304h5v1h-5zm2-2h1v5h-1z"/>
<path class="c" d="M324 295h3v1h-3zm0 1h1v2h-1zm2 0h2v2h-2zm-1 2h2v1h-2z"/>
<path class="k" d="M316 299h3v1h-3zm0 1h1v2h-1zm2 0h2v2h-2zm-1 2h2v1h-2z"/>
<path class="b" d="M360 294h3v1h-3zm0 1h1v2h-1zm2 0h2v2h-2zm-1 2h2v1h-2z"/>
<path class="k" d="M358 297h3v1h-3zm0 1h1v2h-1zm2 0h2v2h-2zm-1 2h2v1h-2z"/>
<path class="j" d="M332 312h3v1h-3zm0 1h1v2h-1zm2 0h2v2h-2zm-1 2h2v1h-2z"/>
<path class="b" d="M332 316h3v1h-3zm0 1h1v2h-1zm2 0h2v2h-2zm-1 2h2v1h-2zM357 317h3v1h-3zm0 1h1v2h-1zm2 0h2v2h-2zm-1 2h2v1h-2z"/>
<path class="c" d="M344 319h3v1h-3zm0 1h1v2h-1zm2 0h2v2h-2zm-1 2h2v1h-2z"/>
<path class="k" d="M347 318h3v1h-3zm0 1h1v2h-1zm2 0h2v2h-2zm-1 2h2v1h-2z"/>
<path class="b" d="M335 337h3v1h-3zm0 1h1v2h-1zm2 0h2v2h-2zm-1 2h2v1h-2z"/>
<path class="c" d="M311 329h3v1h-3zm0 1h1v2h-1zm2 0h2v2h-2zm-1 2h2v1h-2zM313 340h3v1h-3zm0 1h1v2h-1zm2 0h2v2h-2zm-1 2h2v1h-2z"/>
<path class="k" d="M324 331h3v1h-3zm0 1h1v2h-1zm2 0h2v2h-2zm-1 2h2v1h-2zM330 330h3v1h-3zm0 1h1v2h-1zm2 0h2v2h-2zm-1 2h2v1h-2z"/>
<path class="c" d="M322 324h3v1h-3zm0 1h1v2h-1zm2 0h2v2h-2zm-1 2h2v1h-2zM322 326h3v1h-3zm0 1h1v2h-1zm2 0h2v2h-2zm-1 2h2v1h-2z"/>
<path class="k" d="M316 326h3v1h-3zm0 1h1v2h-1zm2 0h2v2h-2zm-1 2h2v1h-2zM308 333h3v1h-3zm0 1h1v2h-1zm2 0h2v2h-2zm-1 2h2v1h-2zM302 332h3v1h-3zm0 1h1v2h-1zm2 0h2v2h-2zm-1 2h2v1h-2zM306 328h3v1h-3zm0 1h1v2h-1zm2 0h2v2h-2zm-1 2h2v1h-2z"/>
<path class="b" d="M302 306h3v1h-3zm0 1h1v2h-1zm2 0h2v2h-2zm-1 2h2v1h-2z"/>
<path class="k" d="M304 303h3v1h-3zm0 1h1v2h-1zm2 0h2v2h-2zm-1 2h2v1h-2zM308 301h3v1h-3zm0 1h1v2h-1zm2 0h2v2h-2zm-1 2h2v1h-2zM312 305h3v1h-3zm0 1h1v2h-1zm2 0h2v2h-2zm-1 2h2v1h-2zM318 303h3v1h-3zm0 1h1v2h-1zm2 0h2v2h-2zm-1 2h2v1h-2zM322 299h3v1h-3zm0 1h1v2h-1zm2 0h2v2h-2zm-1 2h2v1h-2zM320 309h3v1h-3zm0 1h1v2h-1zm2 0h2v2h-2zm-1 2h2v1h-2zM324 308h3v1h-3zm0 1h1v2h-1zm2 0h2v2h-2zm-1 2h2v1h-2zM301 311h3v1h-3zm0 1h1v2h-1zm2 0h2v2h-2zm-1 2h2v1h-2zM305 313h3v1h-3zm0 1h1v2h-1zm2 0h2v2h-2zm-1 2h2v1h-2zM309 309h3v1h-3zm0 1h1v2h-1zm2 0h2v2h-2zm-1 2h2v1h-2zM313 313h3v1h-3zm0 1h1v2h-1zm2 0h2v2h-2zm-1 2h2v1h-2zM317 312h3v1h-3zm0 1h1v2h-1zm2 0h2v2h-2zm-1 2h2v1h-2zM303 323h3v1h-3zm0 1h1v2h-1zm2 0h2v2h-2zm-1 2h2v1h-2zM307 318h3v1h-3zm0 1h1v2h-1zm2 0h2v2h-2zm-1 2h2v1h-2zM311 320h3v1h-3zm0 1h1v2h-1zm2 0h2v2h-2zm-1 2h2v1h-2zM315 319h3v1h-3zm0 1h1v2h-1zm2 0h2v2h-2zm-1 2h2v1h-2zM319 318h3v1h-3zm0 1h1v2h-1zm2 0h2v2h-2zm-1 2h2v1h-2zM323 316h3v1h-3zm0 1h1v2h-1zm2 0h2v2h-2zm-1 2h2v1h-2zM327 317h3v1h-3zm0 1h1v2h-1zm2 0h2v2h-2zm-1 2h2v1h-2zM330 321h3v1h-3zm0 1h1v2h-1zm2 0h2v2h-2zm-1 2h2v1h-2zM334 320h3v1h-3zm0 1h1v2h-1zm2 0h2v2h-2zm-1 2h2v1h-2zM300 326h3v1h-3zm0 1h1v2h-1zm2 0h2v2h-2zm-1 2h2v1h-2zM313 324h3v1h-3zm0 1h1v2h-1zm2 0h2v2h-2zm-1 2h2v1h-2zM307 325h3v1h-3zm0 1h1v2h-1zm2 0h2v2h-2zm-1 2h2v1h-2zM328 314h3v1h-3zm0 1h1v2h-1zm2 0h2v2h-2zm-1 2h2v1h-2z"/>
<path class="e" d="M382 311h5v1h-5zm2-2h1v5h-1zM384 314h5v1h-5zm2-2h1v5h-1zM388 314h5v1h-5zm2-2h1v5h-1zM389 318h5v1h-5zm2-2h1v5h-1zM382 321h5v1h-5zm2-2h1v5h-1zM387 323h5v1h-5zm2-2h1v5h-1z"/>
<path class="l" d="M382 324h5v1h-5zm2-2h1v5h-1zM395 315h5v1h-5zm2-2h1v5h-1z"/>
<path class="e" d="M397 304h5v1h-5zm2-2h1v5h-1z"/>
<path class="g" d="M408 304h5v1h-5zm2-2h1v5h-1z"/>
<path class="f" d="M417 308h5v1h-5zm2-2h1v5h-1z"/>
<path class="k" d="M409 318h5v1h-5zm2-2h1v5h-1z"/>
<path class="l" d="M397 330h5v1h-5zm2-2h1v5h-1z"/>
<path class="f" d="M437 314h5v1h-5zm2-2h1v5h-1z"/>
<path class="g" d="M422 319h5v1h-5zm2-2h1v5h-1zM421 324h5v1h-5zm2-2h1v5h-1zM428 323h5v1h-5zm2-2h1v5h-1zM434 320h5v1h-5zm2-2h1v5h-1zM435 324h5v1h-5zm2-2h1v5h-1zM440 321h5v1h-5zm2-2h1v5h-1zM426 330h5v1h-5zm2-2h1v5h-1zM431 335h5v1h-5zm2-2h1v5h-1zM441 343h5v1h-5zm2-2h1v5h-1z"/>
<path class="c" d="M382 305h3v1h-3zm0 1h1v2h-1zm2 0h2v2h-2zm-1 2h2v1h-2z"/>
<path class="b" d="M385 323h3v1h-3zm0 1h1v2h-1zm2 0h2v2h-2zm-1 2h2v1h-2z"/>
<path class="c" d="M279 350h3v1h-3zm0 1h1v2h-1zm2 0h2v2h-2zm-1 2h2v1h-2z"/>
<path class="k" d="M267 356h3v1h-3zm0 1h1v2h-1zm2 0h2v2h-2zm-1 2h2v1h-2z"/>
</g>
<polygon points="269,145 296.5,135.5 295.5,141.5 314.5,143.5 312.5,155.5 293.5,154 292,160.5" fill="none" stroke="#e4e4e4" stroke-width="1"/>
<polygon points="254,310 281.5,300.5 280.5,306.5 299.5,308.5 297.5,320.5 278.5,319 277,325.5" fill="none" stroke="#e4e4e4" stroke-width="1"/>
<polygon points="239,475 266.5,465.5 265.5,471.5 284.5,473.5 282.5,485.5 263.5,484 262,490.5" fill="none" stroke="#e4e4e4" stroke-width="1"/>
<text x="281.5 288.5 295.5 302.5 309.5" y="56.5" font-family="'DejaVu Sans Mono','Liberation Mono',monospace" font-size="12" font-weight="bold" fill="#000" xml:space="preserve">North</text>
<text x="16 23 30 37" y="318" font-family="'DejaVu Sans Mono','Liberation Mono',monospace" font-size="12" font-weight="bold" fill="#000" xml:space="preserve">West</text>
<text x="552 559 566 573" y="318" font-family="'DejaVu Sans','Liberation Mono',monospace" font-size="12" font-weight="bold" fill="#000" xml:space="preserve">East</text>
<text x="281 288.6 296 303 309" y="578" font-family="'DejaVu Sans','Liberation Sans',sans-serif" font-weight="bold" font-size="11.6" fill="#000">South</text>
<text x="399.3 407.3 415.3 423.3 431.3 439.3 447.3 455.3 463.3 471.3 479.3 487.3 495.3 503.3 511.3 519.3 527.3 535.3 543.3 551.3 559.3 567.3 575.3 583.3 591.3 599.3 607.3 615.3 623.3 631.3 639.3 647.3 655.3 663.3 671.3 679.3 687.3 695.3 703.3 711.3 719.3 727.3 735.3 743.3 751.3 759.3 767.3 775.3 783.3" y="19" font-family="'DejaVu Sans Mono','Liberation Mono',monospace" font-size="13" font-weight="bold" fill="#000" xml:space="preserve">STATION NAME    YYYY DATE  DDD HHMMSS AXN PPS IGP</text>
<text x="399.3 407.3 415.3 423.3 431.3 439.3 447.3 455.3 463.3 471.3 479.3 487.3 495.3 503.3 511.3 519.3 527 535 543 551 559.3 567.3 575.3 583.3 591 599 607.3 615 623 631 639.3 647 655 663 671 679 687 695.3 703 711 719 727.3 735.3 743 751 759.3 767.3 775 783.3" y="35.5" font-family="'DejaVu Sans Mono','Liberation Mono',monospace" font-size="13" font-weight="bold" fill="#000" xml:space="preserve">Jicamarca       <tspan font-family="'DejaVu Sans','Liberation Sans',sans-serif" font-size="12">2005</tspan> Sep<tspan font-family="'DejaVu Sans','Liberation Sans',sans-serif" font-size="12">12</tspan> <tspan font-family="'DejaVu Sans','Liberation Sans',sans-serif" font-size="12">255</tspan> <tspan font-family="'DejaVu Sans','Liberation Sans',sans-serif" font-size="12">220216</tspan> <tspan font-family="'DejaVu Sans','Liberation Sans',sans-serif" font-size="12">417</tspan>  <tspan font-family="'DejaVu Sans','Liberation Sans',sans-serif" font-size="12">75</tspan> +<tspan font-family="'DejaVu Sans','Liberation Sans',sans-serif" font-size="12">8</tspan>G</text>
<text x="594.4 601.4 608.4 615.4 622.4 629.4 636.4 643.4 650.4 657.4 664.4 671.4 678.4 685.4" y="71.3" font-family="'DejaVu Sans Mono','Liberation Mono',monospace" font-size="11" fill="#000" xml:space="preserve">Num of Sources</text>
<text x="769.5 776.5 783.5" y="71.3" font-family="'DejaVu Sans Mono','Liberation Mono',monospace" font-size="11" fill="#000" xml:space="preserve"><tspan font-family="'DejaVu Sans','Liberation Sans',sans-serif" font-size="11">711</tspan></text>
<text x="594.4 601.4 608.4 615.4 622.4 629.4 636.4 643.4 650.4 657.4 664.4 671.4 678.4" y="85.3" font-family="'DejaVu Sans Mono','Liberation Mono',monospace" font-size="11" fill="#000" xml:space="preserve">Min Freq, kHz</text>
<text x="762.5 769.5 776.5 783.5" y="85.3" font-family="'DejaVu Sans Mono','Liberation Mono',monospace" font-size="11" fill="#000" xml:space="preserve"><tspan font-family="'DejaVu Sans','Liberation Sans',sans-serif" font-size="11">4910</tspan></text>
<text x="594.4 601.4 608.4 615.4 622.4 629.4 636.4 643.4 650.4 657.4 664.4 671.4 678.4" y="99.3" font-family="'DejaVu Sans Mono','Liberation Mono',monospace" font-size="11" fill="#000" xml:space="preserve">Max Freq, kHz</text>
<text x="762.5 769.5 776.5 783.5" y="99.3" font-family="'DejaVu Sans Mono','Liberation Mono',monospace" font-size="11" fill="#000" xml:space="preserve"><tspan font-family="'DejaVu Sans','Liberation Sans',sans-serif" font-size="11">6400</tspan></text>
<text x="594.4 601.4 608.4 615.4 622.4 629.4 636.4 643.4 650.4 657.4 664.4 671.4 678.4" y="113.3" font-family="'DejaVu Sans Mono','Liberation Mono',monospace" font-size="11" fill="#000" xml:space="preserve">Min Range, km</text>
<text x="769.5 776.5 783.5" y="113.3" font-family="'DejaVu Sans Mono','Liberation Mono',monospace" font-size="11" fill="#000" xml:space="preserve"><tspan font-family="'DejaVu Sans','Liberation Sans',sans-serif" font-size="11">245</tspan></text>
<text x="594.4 601.4 608.4 615.4 622.4 629.4 636.4 643.4 650.4 657.4 664.4 671.4 678.4" y="127.3" font-family="'DejaVu Sans Mono','Liberation Mono',monospace" font-size="11" fill="#000" xml:space="preserve">Max Range, km</text>
<text x="769.5 776.5 783.5" y="127.3" font-family="'DejaVu Sans Mono','Liberation Mono',monospace" font-size="11" fill="#000" xml:space="preserve"><tspan font-family="'DejaVu Sans','Liberation Sans',sans-serif" font-size="11">355</tspan></text>
<text x="594.4 601.4 608.4 615.4 622.4 629.4 636.4 643.4 650.4 657.4 664.4" y="141.3" font-family="'DejaVu Sans Mono','Liberation Mono',monospace" font-size="11" fill="#000" xml:space="preserve">Max Amp, dB</text>
<text x="776.5 783.5" y="141.3" font-family="'DejaVu Sans Mono','Liberation Mono',monospace" font-size="11" fill="#000" xml:space="preserve"><tspan font-family="'DejaVu Sans','Liberation Sans',sans-serif" font-size="11">77</tspan></text>
<text x="594.4 601.4 608.4 615.4 622.4 629.4 636.4 643.4 650.4 657.4 664.4 671.4 678.4 685.4 692.4" y="155.3" font-family="'DejaVu Sans Mono','Liberation Mono',monospace" font-size="11" fill="#000" xml:space="preserve">Max SNR Amp, dB</text>
<text x="776.5 783.5" y="155.3" font-family="'DejaVu Sans Mono','Liberation Mono',monospace" font-size="11" fill="#000" xml:space="preserve"><tspan font-family="'DejaVu Sans','Liberation Sans',sans-serif" font-size="11">53</tspan></text>
<text x="594.4 601.4 608.4 615.4 622.4 629.4 636.4 643.4 650.4 657.4 664.4 671.4 678.4 685.4 692.4" y="169.3" font-family="'DejaVu Sans Mono','Liberation Mono',monospace" font-size="11" fill="#000" xml:space="preserve">Min SNR Amp, dB</text>
<text x="783.5" y="169.3" font-family="'DejaVu Sans Mono','Liberation Mono',monospace" font-size="11" fill="#000" xml:space="preserve"><tspan font-family="'DejaVu Sans','Liberation Sans',sans-serif" font-size="11">6</tspan></text>
<text x="594.4 601.4 608.4 615.4 622.4 629.4 636.4 643.4 650.4 657.4 664.4 671.4 678.4 685.4 692.4" y="183.3" font-family="'DejaVu Sans Mono','Liberation Mono',monospace" font-size="11" fill="#000" xml:space="preserve">Avg SNR Amp, dB</text>
<text x="776.5 783.5" y="183.3" font-family="'DejaVu Sans Mono','Liberation Mono',monospace" font-size="11" fill="#000" xml:space="preserve"><tspan font-family="'DejaVu Sans','Liberation Sans',sans-serif" font-size="11">19</tspan></text>
<text x="594.4 601.4 608.4 615.4 622.4 629.4 636.4 643.4 650.4 657.4 664.4 671.4 678.4 685.4 692.4 699.4" y="197.3" font-family="'DejaVu Sans Mono','Liberation Mono',monospace" font-size="11" fill="#000" xml:space="preserve">Max RMS Err, deg</text>
<text x="762.5 769.5 776.5 783.5" y="197.3" font-family="'DejaVu Sans Mono','Liberation Mono',monospace" font-size="11" fill="#000" xml:space="preserve"><tspan font-family="'DejaVu Sans','Liberation Sans',sans-serif" font-size="11">42</tspan>.<tspan font-family="'DejaVu Sans','Liberation Sans',sans-serif" font-size="11">0</tspan></text>
<text x="594.4 601.4 608.4 615.4 622.4 629.4 636.4 643.4 650.4 657.4 664.4 671.4 678.4 685.4 692.4 699.4" y="211.3" font-family="'DejaVu Sans Mono','Liberation Mono',monospace" font-size="11" fill="#000" xml:space="preserve">Min RMS Err, deg</text>
<text x="769.5 776.5 783.5" y="211.3" font-family="'DejaVu Sans Mono','Liberation Mono',monospace" font-size="11" fill="#000" xml:space="preserve"><tspan font-family="'DejaVu Sans','Liberation Sans',sans-serif" font-size="11">0</tspan>.<tspan font-family="'DejaVu Sans','Liberation Sans',sans-serif" font-size="11">0</tspan></text>
<text x="594.4 601.4 608.4 615.4 622.4 629.4 636.4 643.4 650.4 657.4 664.4 671.4 678.4 685.4 692.4 699.4" y="225.3" font-family="'DejaVu Sans Mono','Liberation Mono',monospace" font-size="11" fill="#000" xml:space="preserve">Avg RMS Err, deg</text>
<text x="769.5 776.5 783.5" y="225.3" font-family="'DejaVu Sans Mono','Liberation Mono',monospace" font-size="11" fill="#000" xml:space="preserve"><tspan font-family="'DejaVu Sans','Liberation Sans',sans-serif" font-size="11">8</tspan>.<tspan font-family="'DejaVu Sans','Liberation Sans',sans-serif" font-size="11">8</tspan></text>
<text x="594.4 601.4 608.4 615.4 622.4 629.4 636.4 643.4 650.4 657.4 664.4 671.4 678.4 685.4 692.4" y="239.3" font-family="'DejaVu Sans Mono','Liberation Mono',monospace" font-size="11" fill="#000" xml:space="preserve">Doppler Res, Hz</text>
<text x="748.5 755.5 762.5 769.5 776.5 783.5" y="239.3" font-family="'DejaVu Sans Mono','Liberation Mono',monospace" font-size="11" fill="#000" xml:space="preserve"><tspan font-family="'DejaVu Sans','Liberation Sans',sans-serif" font-size="11">0</tspan>.<tspan font-family="'DejaVu Sans','Liberation Sans',sans-serif" font-size="11">0723</tspan></text>
<text x="594.4 601.4 608.4 615.4 622.4 629.4 636.4 643.4" y="253.3" font-family="'DejaVu Sans Mono','Liberation Mono',monospace" font-size="11" fill="#000" xml:space="preserve">CIT, sec</text>
<text x="755.5 762.5 769.5 776.5 783.5" y="253.3" font-family="'DejaVu Sans Mono','Liberation Mono',monospace" font-size="11" fill="#000" xml:space="preserve"><tspan font-family="'DejaVu Sans','Liberation Sans',sans-serif" font-size="11">13</tspan>.<tspan font-family="'DejaVu Sans','Liberation Sans',sans-serif" font-size="11">84</tspan></text>
<text x="594.4 601.4 608.4 615.4 622.4 629.4 636.4 643.4 650.4 657.4 664.4" y="267.3" font-family="'DejaVu Sans Mono','Liberation Mono',monospace" font-size="11" fill="#000" xml:space="preserve">Num of CITs</text>
<text x="783.5" y="267.3" font-family="'DejaVu Sans Mono','Liberation Mono',monospace" font-size="11" fill="#000" xml:space="preserve"><tspan font-family="'DejaVu Sans','Liberation Sans',sans-serif" font-size="11">2</tspan></text>
<text x="594.4 601.4 608.4 615.4 622.4 629.4 636.4 643.4 650.4 657.4 664.4 671.4" y="281.3" font-family="'DejaVu Sans Mono','Liberation Mono',monospace" font-size="11" fill="#000" xml:space="preserve">Polarization</text>
<text x="748.5 755.5 762.5 769.5 776.5 783.5" y="281.3" font-family="'DejaVu Sans Mono','Liberation Mono',monospace" font-size="11" fill="#000" xml:space="preserve">O-mode</text>
<text x="594.4 601.4 608.4 615.4 622.4 629.4 636.4 643.4 650.4 657.4 664.4 671.4 678.4 685.4 692.4 699.4 706.4 713.4 720.4 727.4 734.4 741.4 748.4" y="295.3" font-family="'DejaVu Sans Mono','Liberation Mono',monospace" font-size="11" fill="#000" xml:space="preserve">Center of Sources, deg:</text>
<text x="594.4 601.4 608.4 615.4 622.4 629.4 636.4 643.4 650.4 657.4 664.4 671.4 678.4 685.4 692.4 699.4" y="309.3" font-family="'DejaVu Sans Mono','Liberation Mono',monospace" font-size="11" fill="#000" xml:space="preserve">          Zenith</text>
<text x="769.5 776.5 783.5" y="309.3" font-family="'DejaVu Sans Mono','Liberation Mono',monospace" font-size="11" fill="#000" xml:space="preserve"><tspan font-family="'DejaVu Sans','Liberation Sans',sans-serif" font-size="11">4</tspan>.<tspan font-family="'DejaVu Sans','Liberation Sans',sans-serif" font-size="11">6</tspan></text>
<text x="594.4 601.4 608.4 615.4 622.4 629.4 636.4 643.4 650.4 657.4 664.4 671.4 678.4 685.4 692.4 699.4 706.4" y="323.3" font-family="'DejaVu Sans Mono','Liberation Mono',monospace" font-size="11" fill="#000" xml:space="preserve">          Azimuth</text>
<text x="769.5 776.5 783.5" y="323.3" font-family="'DejaVu Sans Mono','Liberation Mono',monospace" font-size="11" fill="#000" xml:space="preserve"><tspan font-family="'DejaVu Sans','Liberation Sans',sans-serif" font-size="11">280</tspan></text>
<text x="720" y="323" font-family="'DejaVu Sans',sans-serif" font-size="8" font-weight="bold" fill="#000">↶</text>
<text y="572" font-family="'DejaVu Sans Mono','Liberation Mono',monospace" font-size="12" fill="#000" xml:space="preserve"><tspan font-style="italic" x="12">V</tspan><tspan x="19.3" dy="3.7" font-size="9.5" stroke="#000" stroke-width="0.3">h</tspan><tspan font-style="italic" dy="-3.7" x="26 33 40 46.2 53.2 60.2 68 75 82 88.2 95.2 103"> = 141 ± 18 </tspan><tspan x="110 117 124">m/s</tspan></text>
<text y="572" font-family="'DejaVu Sans Mono','Liberation Mono',monospace" font-size="12" fill="#000" xml:space="preserve"><tspan font-style="italic" x="474">V</tspan><tspan x="481.5" dy="3.7" font-size="9" font-weight="bold">z</tspan><tspan font-style="italic" dy="-3.7" x="488 495 502 508.2 516 523 530 536.2 543.2 551"> = 2 ± 10 </tspan><tspan x="558 565 572">m/s</tspan></text>
<text x="12 19 26 33 40 47 54 61 68 75 82 89 96 103 110 117 124 131 138" y="593" font-family="'DejaVu Sans Mono','Liberation Mono',monospace" font-size="12" font-style="italic" fill="#000" xml:space="preserve">Compass coordinates</text>
<text x="419 426 433 440 447 454 461 468 475 482 489 496 502.5 509.5 515.4 520.4 527.4 534.4 541.4 548.4 555.4 562.4 569.4 575.4" y="593" font-family="'DejaVu Sans Mono','Liberation Mono',monospace" font-size="12" font-style="italic" fill="#000" xml:space="preserve">Zenith: max 40°  step 5°</text>
<text x="654.5" y="592.5" font-family="'DejaVu Sans','Liberation Sans',sans-serif" font-size="9.2" fill="#000" xml:space="preserve" textLength="138.3" lengthAdjust="spacing">ShowSkymap v 1.0   SD v 4.2</text>
<defs><linearGradient id="cb" x1="0" y1="0" x2="0" y2="1">
<stop offset="0" stop-color="#0000c8"/>
<stop offset="0.067" stop-color="#0000ff"/>
<stop offset="0.36" stop-color="#00ffff"/>
<stop offset="0.5" stop-color="#80ff80"/>
<stop offset="0.64" stop-color="#ffff00"/>
<stop offset="0.933" stop-color="#ff0000"/>
<stop offset="1" stop-color="#c80000"/>
</linearGradient></defs>
<rect x="593" y="341" width="15" height="242" fill="url(#cb)"/>
<path d="M608.5 341V583M608 341.5H615M608 357.5H615M608 383.5H615M608 409.5H615M608 435.5H615M608 461.5H615M608 488.5H615M608 514.5H615M608 540.5H615M608 566.5H615M608 582.5H615" stroke="#000" stroke-width="1" fill="none" shape-rendering="crispEdges"/>
<text x="617.7 624.9 628.9" y="345" font-family="'DejaVu Sans','Liberation Sans',sans-serif" font-weight="bold" font-size="10" fill="#000">4.6</text>
<text x="617.7 624.9 628.9" y="387" font-family="'DejaVu Sans','Liberation Sans',sans-serif" font-weight="bold" font-size="10" fill="#000">3.0</text>
<text x="617.7 624.9 628.9" y="413" font-family="'DejaVu Sans','Liberation Sans',sans-serif" font-weight="bold" font-size="10" fill="#000">2.0</text>
<text x="617.7 624.9 628.9" y="439" font-family="'DejaVu Sans','Liberation Sans',sans-serif" font-weight="bold" font-size="10" fill="#000">1.0</text>
<text x="617.7" y="465" font-family="'DejaVu Sans','Liberation Sans',sans-serif" font-weight="bold" font-size="10" fill="#000">0</text>
<text x="617.7 622.3 629.5 633.5" y="492" font-family="'DejaVu Sans','Liberation Sans',sans-serif" font-weight="bold" font-size="10" fill="#000">-1.0</text>
<text x="617.7 622.3 629.5 633.5" y="518" font-family="'DejaVu Sans','Liberation Sans',sans-serif" font-weight="bold" font-size="10" fill="#000">-2.0</text>
<text x="617.7 622.3 629.5 633.5" y="544" font-family="'DejaVu Sans','Liberation Sans',sans-serif" font-weight="bold" font-size="10" fill="#000">-3.0</text>
<text x="617.7 622.3 629.5 633.5" y="586" font-family="'DejaVu Sans','Liberation Sans',sans-serif" font-weight="bold" font-size="10" fill="#000">-4.6</text>
<text transform="translate(657.4,492.3) rotate(-90)" font-family="'DejaVu Sans','Liberation Sans',sans-serif" font-weight="bold" font-size="10" fill="#000" textLength="54.5" lengthAdjust="spacing">Doppler, Hz</text>
<text x="668.6" y="406.4" font-family="'DejaVu Sans','Liberation Sans',sans-serif" font-size="11.5" fill="#0000f0">+</text>
<text x="682.7" y="406" font-family="'DejaVu Sans','Liberation Sans',sans-serif" font-weight="bold" font-size="9.6" fill="#0000f0" textLength="44.6" lengthAdjust="spacingAndGlyphs">Positive</text>
<circle cx="672.5" cy="522.5" r="2" fill="none" stroke="#f00000" stroke-width="1"/>
<text x="682.7" y="526" font-family="'DejaVu Sans','Liberation Sans',sans-serif" font-weight="bold" font-size="9.6" fill="#f00000" textLength="50.3" lengthAdjust="spacingAndGlyphs">Negative</text>
<path d="M41 12C30 9.5 13 15 11 30C10.5 36 13 41 15.5 43.5C13.5 36 14 27 20 20C25 14.500 33 12.500 41 12Z" fill="#3a9cc6"/>
<text x="49.2" y="30.6" font-family="'Liberation Serif',serif" font-size="11.5" fill="#38243a" stroke="#38243a" stroke-width="0.25" textLength="30.2" lengthAdjust="spacingAndGlyphs">Lowell</text>
<text x="19.6" y="42.9" font-family="'Liberation Sans',sans-serif" font-size="10.4" fill="#8c1e60" stroke="#8c1e60" stroke-width="0.2" textLength="60" lengthAdjust="spacingAndGlyphs">DIGISONDE</text>
</svg>
</body></html>
